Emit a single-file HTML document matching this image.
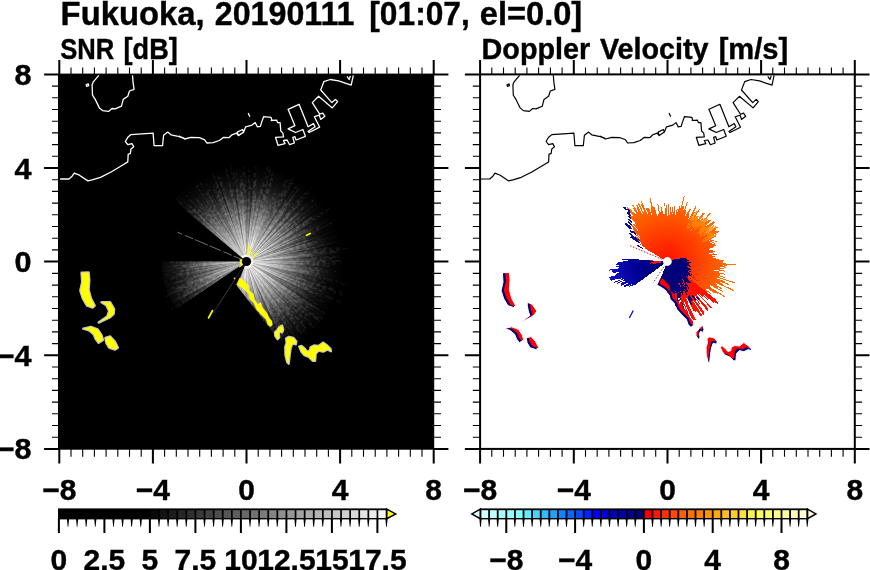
<!DOCTYPE html>
<html><head><meta charset="utf-8"><title>Fukuoka radar</title>
<style>html,body{margin:0;padding:0;background:#fff}svg{display:block}text{font-family:"Liberation Sans",sans-serif;font-weight:bold;fill:#000;stroke:#000;stroke-width:0.4px}</style>
</head><body>
<svg width="870" height="570" viewBox="0 0 870 570">
<defs>
<radialGradient id="gs" gradientUnits="userSpaceOnUse" cx="246.5" cy="261.5" r="100">
<stop offset="0" stop-color="#fff" stop-opacity="0.95"/>
<stop offset="0.08" stop-color="#fff" stop-opacity="0.95"/>
<stop offset="0.15" stop-color="#fff" stop-opacity="0.92"/>
<stop offset="0.25" stop-color="#fff" stop-opacity="0.8"/>
<stop offset="0.35" stop-color="#fff" stop-opacity="0.66"/>
<stop offset="0.45" stop-color="#fff" stop-opacity="0.5"/>
<stop offset="0.55" stop-color="#fff" stop-opacity="0.34"/>
<stop offset="0.65" stop-color="#fff" stop-opacity="0.2"/>
<stop offset="0.75" stop-color="#fff" stop-opacity="0.1"/>
<stop offset="0.85" stop-color="#fff" stop-opacity="0.04"/>
<stop offset="0.97" stop-color="#fff" stop-opacity="0"/>
</radialGradient>
<radialGradient id="gd" gradientUnits="userSpaceOnUse" cx="246.5" cy="261.5" r="108">
<stop offset="0" stop-color="#3a3a3a"/>
<stop offset="0.4" stop-color="#303030"/>
<stop offset="0.6" stop-color="#242424"/>
<stop offset="0.8" stop-color="#161616"/>
<stop offset="1" stop-color="#0a0a0a"/>
</radialGradient>
<filter id="sp" filterUnits="userSpaceOnUse" x="130" y="150" width="240" height="230"><feTurbulence type="fractalNoise" baseFrequency="0.3" numOctaves="2" seed="5" result="n"/><feColorMatrix in="n" type="matrix" values="0 0 0 0 0 0 0 0 0 0 0 0 0 0 0 0 0 0 -5 2.9" result="m"/><feComposite in="SourceGraphic" in2="m" operator="in"/></filter>
<radialGradient id="go" gradientUnits="userSpaceOnUse" cx="667.4" cy="261.5" r="80">
<stop offset="0" stop-color="#ff1000"/>
<stop offset="0.2" stop-color="#ff2800"/>
<stop offset="0.42" stop-color="#ff4400"/>
<stop offset="0.62" stop-color="#ff5c00"/>
<stop offset="0.8" stop-color="#ff7400"/>
<stop offset="1" stop-color="#ff8800"/>
</radialGradient>
<radialGradient id="gb" gradientUnits="userSpaceOnUse" cx="667.4" cy="261.5" r="60">
<stop offset="0" stop-color="#000070"/>
<stop offset="0.5" stop-color="#000090"/>
<stop offset="1" stop-color="#1010c8"/>
</radialGradient>
<clipPath id="cl"><rect x="59.3" y="74.4" width="374.4" height="374.5"/></clipPath>
<clipPath id="cr"><rect x="480.1" y="74.4" width="374.7" height="374.5"/></clipPath>
</defs>
<text x="60.6" y="24.8" font-size="33.6" textLength="144.0" lengthAdjust="spacingAndGlyphs">Fukuoka,</text>
<text x="214.8" y="24.8" font-size="33.6" textLength="139.7" lengthAdjust="spacingAndGlyphs">20190111</text>
<text x="369.3" y="24.8" font-size="33.6" textLength="100.5" lengthAdjust="spacingAndGlyphs">[01:07,</text>
<text x="479.8" y="24.8" font-size="33.6" textLength="102.4" lengthAdjust="spacingAndGlyphs">el=0.0]</text>
<text x="60.2" y="58.8" font-size="29.2" textLength="54.0" lengthAdjust="spacingAndGlyphs">SNR</text>
<text x="123.6" y="58.8" font-size="29.2" textLength="54.1" lengthAdjust="spacingAndGlyphs">[dB]</text>
<text x="481.6" y="58.8" font-size="29.2" textLength="108.5" lengthAdjust="spacingAndGlyphs">Doppler</text>
<text x="600" y="58.8" font-size="29.2" textLength="108.6" lengthAdjust="spacingAndGlyphs">Velocity</text>
<text x="718.7" y="58.8" font-size="29.2" textLength="69.5" lengthAdjust="spacingAndGlyphs">[m/s]</text>
<rect x="58" y="73.6" width="376.2" height="376.1" fill="#000"/>
<g clip-path="url(#cl)">
<g filter="url(#sp)">
<path d="M246.5,261.5 L237,286.3 237.4,286.4 237.3,286.7 237.8,286.9 237.7,287.2 238.1,287.3 238,287.6 238.5,287.8 238.4,288.1 238.8,288.2 238.7,288.5 239.2,288.7 239.1,289 239.6,289.2 239.5,289.5 240,289.6 239.9,290 240.4,290.1 240.3,290.6 240.8,290.7 240.7,291.1 241.3,291.2 241.2,291.7 241.7,291.7 241.6,292.2 242.2,292.3 242.1,292.8 242.6,292.9 242.6,293.5 243.1,293.5 243.1,294.1 243.6,294.1 243.6,294.8 244.2,294.8 244.1,295.4 244.7,295.5 244.7,296.2 245.3,296.2 245.3,296.9 245.9,296.9 245.9,297.7 246.5,297.7 246.5,298.5 247.1,298.5 247.2,299.4 247.8,299.4 247.9,300.3 248.5,300.2 248.6,301.2 249.3,301.2 249.3,302.2 250.1,302.2 250.2,303.3 250.9,303.2 251,304.4 251.8,304.3 251.9,305.6 252.7,305.5 252.9,306.8 253.7,306.7 253.9,308.2 254.7,308 255,309.6 255.8,309.5 256.1,311.1 257,311 257.4,312.8 258.3,312.6 258.8,314.6 259.7,314.4 260.2,316.5 261.2,316.3 261.8,318.6 262.8,318.4 263.5,320.9 264.6,320.6 265.4,323.5 266.5,323.1 267.5,326.2 268.7,325.9 269.9,329.3 271,328.9 272,331.6 273.2,331.1 275.4,336.7 276.7,336.2 278.7,341.1 280.1,340.5 274.7,328 275.9,327.5 281.5,340.2 282.9,339.6 282,337.7 283.3,337.1 288.9,348.5 290.4,347.7 287.7,342.4 289.1,341.7 280.6,325.6 281.7,325 295.5,349.9 297.1,349.1 279.3,318.3 280.3,317.7 286.7,328.3 287.8,327.6 295.2,339.5 296.6,338.6 283,317.7 284,317.1 291.7,328.6 292.9,327.8 282.3,312.6 283.2,312 298.4,332.9 299.6,332 302,335.2 303.3,334.2 298.4,328 299.6,327 307.4,336.7 308.7,335.6 293.9,317.9 294.8,317.1 305.1,329 306.3,327.9 303.5,324.8 304.6,323.8 304.2,323.4 305.3,322.4 301.8,318.7 302.7,317.7 313.9,328.9 315.1,327.7 318.2,330.7 319.4,329.5 305.2,316.2 306.2,315.2 312,320.4 313,319.3 294.2,303 295,302.2 319.4,322.6 320.4,321.4 318.6,319.9 319.6,318.6 331.5,327.9 332.6,326.4 326.7,321.9 327.7,320.5 308.7,306.7 309.5,305.6 313.1,308.1 313.9,307 324.2,313.9 325.1,312.5 301.4,297.2 302,296.2 318.3,306.4 319.1,305.1 308.1,298.5 308.7,297.4 306.8,296.3 307.4,295.2 305.1,294 305.7,293 333.1,307.5 333.9,306 309,293.3 309.5,292.2 314.2,294.5 314.7,293.3 320.4,296 321,294.7 340.2,303.2 340.9,301.6 309.1,288.1 309.5,287 324.5,293 325,291.6 329.1,293.2 329.6,291.8 343.4,296.8 344,295.1 341.3,294.1 341.9,292.5 343.7,293.1 344.3,291.4 319.8,283.9 320.2,282.6 325.9,284.3 326.3,282.9 323.9,282.2 324.3,280.9 346.5,286.4 347,284.7 350.1,285.4 350.5,283.6 316,276.3 316.3,275.1 317.4,275.3 317.6,274 320,274.5 320.2,273.2 320.3,273.2 320.4,271.9 331.3,273.4 331.5,271.9 336,272.5 336.2,270.9 322,269.4 322.2,268.1 310.9,267.1 311,266 329.1,267.3 329.2,265.8 327,265.7 327.1,264.3 335.7,264.6 335.7,263.1 352.6,263.4 352.6,261.5 341.1,261.5 341.1,259.8 333.5,260 333.4,258.5 337.9,258.3 337.8,256.7 340.4,256.6 340.3,254.9 313.2,256.8 313.1,255.7 349.9,252.5 349.7,250.7 344.5,251.2 344.3,249.5 348.4,249 348.2,247.2 344.9,247.7 344.6,246 327.1,248.7 326.9,247.3 327.2,247.3 326.9,245.9 314.2,248.3 314,247.2 336.7,242.3 336.3,240.8 312,246.4 311.7,245.2 311.9,245.2 311.6,244 317.6,242.5 317.2,241.2 315.3,241.8 314.9,240.6 322.4,238.3 322,237 310,240.9 309.6,239.8 307.5,240.5 307.1,239.4 308.2,239.1 307.8,238 305.9,238.7 305.5,237.7 315.3,233.7 314.8,232.5 302.2,237.8 301.8,236.9 333.1,223 332.4,221.4 322.9,225.9 322.2,224.6 305.4,232.8 304.9,231.8 308.6,229.9 308,228.8 311.4,227 310.8,225.9 311.4,225.5 310.8,224.4 302.3,229.3 301.8,228.3 326.9,213.2 326,211.8 330.9,208.7 330,207.3 312.2,218.9 311.4,217.7 312,217.3 311.2,216.2 298.1,225.4 297.5,224.5 298,224.1 297.3,223.2 305.1,217.4 304.3,216.4 301.8,218.3 301.1,217.3 318.7,203 317.7,201.8 297.1,219.1 296.3,218.2 292.1,221.8 291.4,221.1 319.2,196 318.1,194.8 305.6,206.4 304.6,205.4 293.6,216 292.8,215.2 304.1,203.9 303.1,202.9 288.6,217.9 287.8,217.2 301.6,202.4 300.6,201.4 312.7,187.9 311.4,186.8 308.4,190.3 307.1,189.2 302.8,194.4 301.6,193.4 290.6,207.1 289.6,206.3 292.2,202.9 291.2,202.2 286.4,208.6 285.4,207.9 299.8,188.2 298.5,187.2 293,195.2 291.8,194.4 297.3,186.1 296,185.2 286.2,200.4 285.1,199.8 282.8,203.4 281.8,202.8 294,182.4 292.6,181.6 296.1,175.6 294.6,174.7 292,179.4 290.6,178.6 289.7,180.3 288.3,179.5 288.5,179.1 287.1,178.3 285.7,181.2 284.3,180.5 275.5,199.3 274.4,198.8 279.2,188.1 277.9,187.5 275.4,193.5 274.2,193 269.2,205.2 268.2,204.8 268.2,204.9 267.2,204.5 270.7,195 269.5,194.6 269.3,195.3 268.1,195 273.5,178.3 272.1,177.9 275.2,167.7 273.5,167.2 267.9,187 266.6,186.6 271.7,167.5 270,167.1 270.5,165.1 268.9,164.7 268.6,166 266.9,165.6 261.9,188.9 260.7,188.6 259.6,194.3 258.4,194.1 258.4,193.9 257.2,193.7 257.1,194.9 255.9,194.7 255.9,194.4 254.8,194.2 256.8,177.4 255.4,177.3 256.5,166.2 254.9,166 254.6,168.4 253,168.3 252,182.8 250.6,182.8 251,175.8 249.5,175.7 249.7,169.8 248.1,169.8 247.6,198.6 246.5,198.6 246.5,175.3 245,175.4 244.8,165.3 243.1,165.4 243.3,170.5 241.7,170.6 241.8,171.9 240.2,172 241,182.9 239.6,183 240.7,195 239.5,195.1 237,170.7 235.4,170.8 237.6,189.1 236.4,189.3 233.7,170.6 232.1,170.8 231.1,164 229.4,164.3 233.7,188.7 232.4,189 232.4,188.7 231.1,189 226.6,167.9 225,168.3 227,176.8 225.5,177.2 230.8,198.4 229.7,198.7 230.1,200.4 229.1,200.7 228.8,199.7 227.7,200.1 219,171.6 217.5,172.1 218.7,175.8 217.2,176.3 225.6,200.9 224.6,201.3 215.4,176.1 213.9,176.6 211.7,171 210.2,171.6 214.9,183.4 213.6,184 218.3,195.1 217.2,195.6 214,188.5 212.7,189 219.7,204 218.7,204.5 220.7,208.6 219.8,209.1 202.6,175.4 201.1,176.2 207.1,187.4 205.8,188.1 208.2,192.3 207,193 198.9,179.1 197.5,179.9 207.7,196.9 206.5,197.6 197.4,182.9 196,183.8 197,185.3 195.7,186.1 209.3,206.3 208.3,206.9 207.4,205.6 206.4,206.3 205.4,205 204.5,205.7 205.7,207.4 204.8,208.1 196.4,197.3 195.3,198.2 203.4,208.3 202.5,209 198.4,204.2 197.4,205 204.9,213.6 204,214.3 183.5,191.5 182.3,192.6 197.2,208.7 196.3,209.5 193.5,206.6 192.5,207.5 189,204 188,205 178.9,196.2 177.8,197.4 191.7,210.4 190.8,211.4 176.3,198.3 175.2,199.5 187.6,210.3 186.7,211.3Z" fill="url(#gd)"/>
<path d="M246.5,261.5 L169.8,261.5 169.8,262.8 170.1,262.8 170.1,264.2 186.1,263.6 186.2,264.7 172.8,265.4 172.9,266.6 181,266.1 181.1,267.2 186.8,266.7 186.9,267.8 161.8,270.4 162,271.9 181.7,269.5 181.8,270.6 172.4,271.9 172.6,273.2 164.7,274.5 164.9,275.9 170.2,275 170.5,276.3 177.6,274.9 177.9,276.1 171.9,277.4 172.2,278.7 171,278.9 171.4,280.2 164.3,282 164.7,283.4 185.5,277.9 185.7,278.9 171.9,282.9 172.3,284.2 181.7,281.3 182.1,282.4 181.2,282.7 181.6,283.8 166.8,288.9 167.3,290.3 175.2,287.5 175.6,288.7 174,289.3 174.5,290.6 168.7,292.9 169.3,294.3 164.8,296.2 165.4,297.6 179,291.6 179.5,292.7 174.7,295 175.3,296.2 178.3,294.8 178.9,295.9 178.7,296 179.3,297.2 174.3,299.9 175,301.2 181.6,297.5 182.3,298.6 180,299.9 180.7,301 182.2,300.1 182.9,301.2 170.5,309 171.3,310.3 177.7,306.2 178.5,307.3Z" fill="url(#gd)"/>
</g>
<path d="M246.5,261.5 L237,286.3 237.4,286.4 237.3,286.7 237.8,286.9 237.7,287.2 238.1,287.3 238,287.6 238.5,287.8 238.4,288.1 238.8,288.2 238.7,288.5 239.2,288.7 239.1,289 239.6,289.2 239.5,289.5 240,289.6 239.9,290 240.4,290.1 240.3,290.6 240.8,290.7 240.7,291.1 241.3,291.2 241.2,291.7 241.7,291.7 241.6,292.2 242.2,292.3 242.1,292.8 242.6,292.9 242.6,293.5 243.1,293.5 243.1,294.1 243.6,294.1 243.6,294.8 244.2,294.8 244.1,295.4 244.7,295.5 244.7,296.2 245.3,296.2 245.3,296.9 245.9,296.9 245.9,297.7 246.5,297.7 246.5,298.5 247.1,298.5 247.2,299.4 247.8,299.4 247.9,300.3 248.5,300.2 248.6,301.2 249.3,301.2 249.3,302.2 250.1,302.2 250.2,303.3 250.9,303.2 251,304.4 251.8,304.3 251.9,305.6 252.7,305.5 252.9,306.8 253.7,306.7 253.9,308.2 254.7,308 255,309.6 255.8,309.5 256.1,311.1 257,311 257.4,312.8 258.3,312.6 258.8,314.6 259.7,314.4 260.2,316.5 261.2,316.3 261.8,318.6 262.8,318.4 263.5,320.9 264.6,320.6 265.4,323.5 266.5,323.1 267.5,326.2 268.7,325.9 269.9,329.3 271,328.9 272.5,332.8 273.7,332.3 275.4,336.7 276.7,336.2 278.7,341.1 280.1,340.5 282.4,346.2 283.9,345.5 286.4,351 287.9,350.3 287.9,350.3 289.5,349.6 289.5,349.6 291,348.8 291,348.8 292.5,348 292.5,348 294,347.2 294,347.2 295.5,346.4 295.5,346.4 297,345.5 297,345.5 298.4,344.6 298.4,344.6 299.9,343.7 299.9,343.7 301.3,342.7 301.3,342.7 302.7,341.8 302.7,341.8 304.1,340.8 304.1,340.8 305.5,339.8 305.5,339.8 306.8,338.7 306.8,338.7 308.2,337.7 308.2,337.7 309.5,336.6 309.5,336.6 310.8,335.5 310.8,335.5 312.1,334.3 312.1,334.3 313.3,333.2 313.3,333.2 314.6,332 314.6,332 315.8,330.8 315.8,330.8 317,329.6 317,329.6 318.2,328.3 318.2,328.3 319.3,327.1 319.3,327.1 320.5,325.8 320.5,325.8 321.6,324.5 321.6,324.5 322.7,323.2 322.7,323.2 323.7,321.8 323.7,321.8 324.8,320.5 324.8,320.5 325.8,319.1 325.8,319.1 326.8,317.7 326.8,317.7 327.7,316.3 327.7,316.3 328.7,314.9 328.7,314.9 329.6,313.4 329.6,313.4 330.5,312 330.5,312 331.4,310.5 331.4,310.5 332.2,309 332.2,309 333,307.5 333,307.5 333.8,306 333.8,306 334.6,304.5 334.6,304.5 335.3,302.9 335.3,302.9 336,301.4 336,301.4 336.7,299.8 336.7,299.8 337.4,298.2 337.4,298.2 338,296.6 338,296.6 338.6,295 338.6,295 339.2,293.4 339.2,293.4 339.7,291.8 339.7,291.8 340.2,290.2 340.2,290.2 340.7,288.5 340.7,288.5 341.2,286.9 341.2,286.9 341.6,285.2 341.6,285.2 342,283.5 342,283.5 342.4,281.9 342.4,281.9 342.7,280.2 342.7,280.2 343,278.5 343,278.5 343.3,276.8 343.3,276.8 343.5,275.1 343.5,275.1 343.8,273.4 343.8,273.4 344,271.7 344,271.7 344.1,270 344.1,270 344.3,268.3 344.3,268.3 344.4,266.6 344.4,266.6 344.4,264.9 344.4,264.9 344.5,263.2 344.5,263.2 344.5,261.5 344.5,261.5 344.5,259.8 344.5,259.8 344.4,258.1 344.4,258.1 344.4,256.4 344.4,256.4 344.3,254.7 344.3,254.7 344.1,253 344.1,253 344,251.3 344,251.3 343.8,249.6 343.8,249.6 343.5,247.9 343.5,247.9 343.3,246.2 343.3,246.2 343,244.5 343,244.5 342.7,242.8 342.7,242.8 342.4,241.1 342.4,241.1 342,239.5 342,239.5 341.6,237.8 341.6,237.8 341.2,236.1 341.2,236.1 340.7,234.5 340.7,234.5 340.2,232.8 340.2,232.8 339.7,231.2 339.7,231.2 339.2,229.6 339.2,229.6 338.6,228 338.6,228 338,226.4 338,226.4 337.4,224.8 337.4,224.8 336.7,223.2 336.7,223.2 336,221.6 336,221.6 335.3,220.1 335.3,220.1 334.6,218.5 334.6,218.5 333.8,217 333.8,217 333,215.5 333,215.5 332.2,214 332.2,214 331.4,212.5 331.4,212.5 330.5,211 330.5,211 329.6,209.6 329.6,209.6 328.7,208.1 328.7,208.1 327.7,206.7 327.7,206.7 326.8,205.3 326.8,205.3 325.8,203.9 325.8,203.9 324.8,202.5 324.8,202.5 323.7,201.2 323.7,201.2 322.7,199.8 322.7,199.8 321.6,198.5 321.6,198.5 320.5,197.2 320.5,197.2 319.3,195.9 319.3,195.9 318.2,194.7 318.2,194.7 317,193.4 317,193.4 315.8,192.2 315.8,192.2 314.6,191 314.6,191 313.3,189.8 313.3,189.8 312.1,188.7 312.1,188.7 310.8,187.5 310.8,187.5 309.5,186.4 309.5,186.4 308.2,185.3 308.2,185.3 306.8,184.3 306.8,184.3 305.5,183.2 305.5,183.2 304.1,182.2 304.1,182.2 302.7,181.2 302.7,181.2 301.3,180.3 301.3,180.3 299.9,179.3 299.9,179.3 298.4,178.4 298.4,178.4 297,177.5 297,177.5 295.5,176.6 295.5,176.6 294,175.8 294,175.8 292.5,175 292.5,175 291,174.2 291,174.2 289.5,173.4 289.5,173.4 287.9,172.7 287.9,172.7 286.4,172 286.4,172 284.8,171.3 284.8,171.3 283.2,170.6 283.2,170.6 281.6,170 281.6,170 280,169.4 280,169.4 278.4,168.8 278.4,168.8 276.8,168.3 276.8,168.3 275.2,167.8 275.2,167.8 273.5,167.3 273.5,167.3 271.9,166.8 271.9,166.8 270.2,166.4 270.2,166.4 268.5,166 268.5,166 266.9,165.6 266.9,165.6 265.2,165.3 265.2,165.3 263.5,165 263.5,165 261.8,164.7 261.8,164.7 260.1,164.5 260.1,164.5 258.4,164.2 258.4,164.2 256.7,164 256.7,164 255,163.9 255,163.9 253.3,163.7 253.3,163.7 251.6,163.6 251.6,163.6 249.9,163.6 249.9,163.6 248.2,163.5 248.2,163.5 246.5,163.5 246.5,163.5 244.8,163.5 244.8,163.5 243.1,163.6 243.1,163.6 241.4,163.6 241.4,163.6 239.7,163.7 239.7,163.7 238,163.9 238,163.9 236.3,164 236.3,164 234.6,164.2 234.6,164.2 232.9,164.5 232.9,164.5 231.2,164.7 231.2,164.7 229.5,165 229.5,165 227.8,165.3 227.8,165.3 226.1,165.6 226.1,165.6 224.5,166 224.5,166 222.8,166.4 222.8,166.4 221.1,166.8 221.1,166.8 219.5,167.3 219.5,167.3 217.8,167.8 217.8,167.8 216.2,168.3 216.2,168.3 214.6,168.8 214.6,168.8 213,169.4 213,169.4 211.4,170 211.4,170 209.8,170.6 209.8,170.6 208.2,171.3 208.2,171.3 206.6,172 206.6,172 205.1,172.7 205.1,172.7 203.5,173.4 203.5,173.4 202,174.2 202,174.2 200.5,175 200.5,175 199,175.8 199,175.8 197.5,176.6 197.5,176.6 196,177.5 196,177.5 194.6,178.4 194.6,178.4 193.1,179.3 193.1,179.3 191.7,180.3 191.7,180.3 190.3,181.2 190.3,181.2 188.9,182.2 188.9,182.2 187.5,183.2 187.5,183.2 186.2,184.3 186.2,184.3 184.8,185.3 184.8,185.3 183.5,186.4 183.5,186.4 182.2,187.5 182.2,187.5 180.9,188.7 180.9,188.7 179.7,189.8 179.7,189.8 178.4,191 178.4,191 177.2,192.2 177.2,192.2 176,193.4 176,193.4 174.8,194.7 174.8,194.7 173.7,195.9 173.7,195.9 172.5,197.2 172.5,197.2 171.4,198.5Z" fill="url(#gs)"/>
<path d="M246.5,261.5 L161.5,261.5 161.5,263 161.5,263 161.6,264.5 161.6,264.5 161.6,265.9 161.6,265.9 161.7,267.4 161.7,267.4 161.8,268.9 161.8,268.9 162,270.4 162,270.4 162.1,271.9 162.1,271.9 162.3,273.3 162.3,273.3 162.5,274.8 162.5,274.8 162.8,276.3 162.8,276.3 163.1,277.7 163.1,277.7 163.4,279.2 163.4,279.2 163.7,280.6 163.7,280.6 164,282.1 164,282.1 164.4,283.5 164.4,283.5 164.8,284.9 164.8,284.9 165.2,286.4 165.2,286.4 165.7,287.8 165.7,287.8 166.1,289.2 166.1,289.2 166.6,290.6 166.6,290.6 167.1,292 167.1,292 167.7,293.3 167.7,293.3 168.3,294.7 168.3,294.7 168.8,296.1 168.8,296.1 169.5,297.4 169.5,297.4 170.1,298.8 170.1,298.8 170.8,300.1 170.8,300.1 171.4,301.4 171.4,301.4 172.2,302.7 172.2,302.7 172.9,304 172.9,304 173.6,305.3 173.6,305.3 174.4,306.5 174.4,306.5 175.2,307.8 175.2,307.8 176,309Z" fill="url(#gs)" opacity="0.85"/>
<path d="M246.5,261.5 L212.2,313.1 213.5,314Z" fill="url(#gs)" opacity="0.35"/>
<path d="M244,268 L206.4,366.1 L208.9,367 L244.2,268.1 Z M246.3,268.5 L242.8,373.4 L246.5,373.5 L246.5,268.5 Z M247.4,268.4 L260.7,372.6 L263.4,372.2 L247.6,268.4 Z M247.9,268.4 L268.4,371.3 L271.1,370.8 L248,268.3 Z M248,268.3 L271.1,370.8 L273.8,370.1 L248.2,268.3 Z M249,268 L287.2,365.8 L289,365.1 L249.2,268 Z M250,267.6 L302.7,358.4 L303.8,357.7 L250.1,267.5 Z M250.5,267.2 L310.9,353.1 L313.1,351.5 L250.7,267.1 Z M251.3,266.6 L323,343.3 L325,341.4 L251.4,266.5 Z M251.5,266.4 L326.4,340 L328.9,337.3 L251.7,266.2 Z M252,265.8 L334.6,330.6 L335.8,329.1 L252.1,265.7 Z M252.5,265.1 L342.1,319.9 L344,316.7 L252.6,264.9 Z M252.6,264.9 L344,316.7 L345.8,313.4 L252.7,264.7 Z M253.2,263.5 L353.8,293.5 L354.8,289.9 L253.3,263.3 Z M253.3,263.3 L354.8,289.9 L355.5,287.3 L253.3,263.1 Z M253.5,262.1 L358.1,270.7 L358.3,267.9 L253.5,261.9 Z M253.5,261.1 L358.4,255.8 L358.2,253.1 L253.5,261 Z M253,259 L350.8,220.8 L350.1,219 L253,258.8 Z M250.9,256 L316.7,174.2 L314.5,172.5 L250.8,255.9 Z M249.5,255.2 L295.1,160.6 L293.8,160 L249.5,255.2 Z M248.2,254.7 L273.2,152.7 L271.3,152.3 L248.1,254.7 Z M243.4,255.2 L197.1,161 L193.7,162.7 L243.2,255.3 Z M242.6,255.7 L183.7,168.8 L182.6,169.5 L242.5,255.8 Z M241.7,256.4 L170.3,179.5 L167.6,182 L241.6,256.5 Z M241.2,256.9 L162.4,187.6 L161.1,189.1 L241.2,257 Z M241.2,257 L161.1,189.1 L160.7,189.5 L241.1,257 Z M239.5,262.2 L135.1,273.2 L135.4,275.9 L239.6,262.4 Z M239.6,262.6 L135.9,279.2 L136.4,281.9 L239.6,262.8 Z M239.9,263.7 L140.2,296.9 L141.1,299.4 L239.9,263.9 Z M240.5,265.2 L151.2,320.4 L153.2,323.5 L240.7,265.4 Z" fill="#000" opacity="0.3"/>
<path d="M244.2,268.1 L208.9,367 L210.8,367.7 L244.3,268.1 Z M244.3,268.1 L210.8,367.7 L212.6,368.3 L244.4,268.2 Z M244.4,268.2 L212.6,368.3 L213.9,368.7 L244.5,268.2 Z M244.8,268.3 L218.8,370 L220.7,370.5 L244.9,268.3 Z M245.8,268.5 L235.8,373 L237.1,373.1 L245.9,268.5 Z M247.6,268.4 L263.4,372.2 L267.1,371.6 L247.8,268.4 Z M247.8,268.4 L267.1,371.6 L268.4,371.3 L247.9,268.4 Z M248.8,268.1 L282.8,367.5 L284.6,366.8 L248.9,268.1 Z M248.9,268.1 L284.6,366.8 L287.2,365.8 L249,268 Z M249.7,267.7 L297.3,361.3 L299.1,360.4 L249.8,267.7 Z M252.9,264.3 L349,306.7 L349.7,304.9 L253,264.2 Z M253.1,263.9 L351.9,299.3 L352.8,296.7 L253.1,263.7 Z M253.5,261.4 L358.5,259.9 L358.4,257.2 L253.5,261.2 Z M253.5,261.2 L358.4,257.2 L358.4,255.8 L253.5,261.1 Z M253.4,260.6 L357.6,247.1 L357.3,245.1 L253.4,260.5 Z M253.4,260.5 L357.3,245.1 L357.1,243.8 L253.4,260.4 Z M252.7,258.3 L346.2,210.5 L344.5,207.2 L252.6,258.1 Z M252.5,258 L343.1,204.8 L342.1,203.1 L252.5,257.9 Z M251.8,256.9 L331.4,188.5 L328.9,185.7 L251.7,256.8 Z M249.9,255.4 L300.8,163.5 L298.4,162.2 L249.7,255.3 Z M249.7,255.3 L298.4,162.2 L295.1,160.6 L249.5,255.2 Z M249.3,255.1 L292.1,159.2 L290.8,158.6 L249.3,255.1 Z M247.7,254.6 L265.9,151.2 L262.3,150.6 L247.5,254.6 Z M246.9,254.5 L252.9,149.7 L249.2,149.5 L246.7,254.5 Z M246.5,254.5 L246.5,149.5 L244.5,149.5 L246.4,254.5 Z M246.4,254.5 L244.5,149.5 L241.8,149.6 L246.2,254.5 Z M244.9,254.7 L221.3,152.4 L217.7,153.3 L244.7,254.7 Z M244,255 L205.8,157.2 L203.3,158.2 L243.8,255 Z M243.6,255.1 L200.8,159.3 L198.3,160.4 L243.5,255.2 Z M243,255.4 L190.8,164.3 L187.6,166.2 L242.8,255.5 Z M242.7,255.6 L186,167.3 L183.7,168.8 L242.6,255.7 Z M242.4,255.8 L181,170.7 L178,172.9 L242.2,256 Z M242,256.2 L173.8,176.3 L171.7,178.1 L241.8,256.3 Z M239.5,261.5 L134.5,261.5 L134.5,263.5 L239.5,261.6 Z M239.5,261.6 L134.5,263.5 L134.6,266.2 L239.5,261.8 Z M239.6,262.9 L136.7,283.8 L137.5,287.5 L239.7,263.1 Z M239.7,263.3 L138.5,291.1 L139,292.9 L239.8,263.5 Z M239.8,263.6 L139.8,295.6 L140.2,296.9 L239.9,263.7 Z M240.1,264.3 L143.9,306.3 L145.4,309.7 L240.2,264.5 Z M240.2,264.5 L145.4,309.7 L147.1,313 L240.3,264.7 Z" fill="#000" opacity="0.2"/>
<path d="M244.5,268.2 L213.9,368.7 L217.5,369.7 L244.7,268.3 Z M246.5,268.5 L246.5,373.5 L250.2,373.4 L246.7,268.5 Z M247,268.5 L253.9,373.3 L256.7,373 L247.1,268.5 Z M248.4,268.2 L277,369.3 L278.3,368.9 L248.5,268.2 Z M248.7,268.2 L280.9,368.1 L282.8,367.5 L248.8,268.1 Z M249.8,267.7 L299.1,360.4 L300.3,359.7 L249.9,267.6 Z M249.9,267.6 L301.5,359.1 L302.7,358.4 L250,267.6 Z M250.7,267.1 L313.1,351.5 L316.1,349.3 L250.8,267 Z M251,266.8 L319.1,346.8 L320.6,345.5 L251.1,266.8 Z M251.2,266.7 L321.6,344.6 L323,343.3 L251.3,266.6 Z M251.4,266.5 L325,341.4 L326.4,340 L251.5,266.4 Z M251.7,266.2 L328.9,337.3 L330.3,335.9 L251.7,266.1 Z M253.4,262.6 L357.1,279 L357.4,277.1 L253.4,262.5 Z M253.5,262.2 L357.9,273.4 L358.1,270.7 L253.5,262.1 Z M253.5,261.7 L358.4,265.2 L358.5,263.8 L253.5,261.6 Z M253.5,261.6 L358.5,263.8 L358.5,261.9 L253.5,261.5 Z M253.4,260.4 L357.1,243.8 L356.9,242.4 L253.4,260.3 Z M253.3,259.9 L355.5,235.9 L354.6,232.3 L253.3,259.7 Z M252.2,257.4 L337,195.5 L334.8,192.5 L252,257.2 Z M252,257.2 L334.8,192.5 L333.9,191.5 L252,257.1 Z M251.1,256.2 L320.3,177.2 L318.8,176 L251,256.2 Z M250.5,255.7 L309.9,169.2 L306.8,167.1 L250.3,255.6 Z M250.1,255.5 L304,165.4 L300.8,163.5 L249.9,255.4 Z M249.5,255.2 L293.8,160 L292.1,159.2 L249.3,255.1 Z M249.3,255.1 L290.8,158.6 L289.5,158.1 L249.2,255 Z M249,255 L286.1,156.7 L282.6,155.5 L248.8,254.9 Z M248.3,254.7 L275.9,153.4 L273.2,152.7 L248.2,254.7 Z M245.9,254.5 L236.3,150 L233.6,150.2 L245.7,254.5 Z M245.3,254.6 L226.7,151.3 L224,151.8 L245.1,254.6 Z M244.7,254.7 L217.7,153.3 L216.4,153.6 L244.6,254.8 Z M244.6,254.8 L216.4,153.6 L212.8,154.7 L244.4,254.8 Z M244.4,254.8 L212.8,154.7 L211.5,155.1 L244.3,254.9 Z M242.2,256 L178,172.9 L175.9,174.6 L242.1,256.1 Z M242.1,256.1 L175.9,174.6 L173.8,176.3 L242,256.2 Z M241.8,256.3 L171.7,178.1 L170.3,179.5 L241.7,256.4 Z M239.6,262.4 L135.4,275.9 L135.6,277.3 L239.6,262.5 Z M239.6,262.5 L135.6,277.3 L135.9,279.2 L239.6,262.6 Z M239.8,263.5 L139,292.9 L139.8,295.6 L239.8,263.6 Z" fill="#000" opacity="0.1"/>
<path d="M244.7,268.3 L217.5,369.7 L218.8,370 L244.8,268.3 Z M245.1,268.4 L224.7,371.4 L226.7,371.7 L245.3,268.4 Z M247.1,268.5 L256.7,373 L258,372.9 L247.2,268.5 Z M249.2,268 L289,365.1 L292.4,363.7 L249.4,267.9 Z M249.9,267.6 L300.3,359.7 L301.5,359.1 L249.9,267.6 Z M252.4,265.3 L340.1,323 L342.1,319.9 L252.5,265.1 Z M252.7,264.7 L345.8,313.4 L347,310.9 L252.8,264.6 Z M253.1,263.9 L351.5,300.5 L351.9,299.3 L253.1,263.9 Z M253.2,263.6 L353.4,294.8 L353.8,293.5 L253.2,263.5 Z M253.3,263.1 L355.5,287.3 L355.9,285.4 L253.3,263 Z M253.4,260.3 L356.9,242.4 L356.4,239.7 L253.4,260.1 Z M253.3,260 L356,237.8 L355.5,235.9 L253.3,259.9 Z M253.2,259.5 L353.6,228.8 L352.8,226.1 L253.1,259.3 Z M253.1,259.2 L352.1,224.3 L350.8,220.8 L253,259 Z M253,258.8 L350.1,219 L349.6,217.7 L252.9,258.8 Z M252.9,258.6 L348.3,214.7 L347.4,212.9 L252.8,258.5 Z M252.6,258.1 L344.5,207.2 L343.8,206 L252.6,258 Z M252.6,258 L343.8,206 L343.1,204.8 L252.5,258 Z M252.3,257.5 L338.6,197.7 L337.8,196.6 L252.2,257.4 Z M252.2,257.4 L337.8,196.6 L337,195.5 L252.2,257.4 Z M252,257.1 L333.9,191.5 L332.7,190 L251.9,257 Z M251.5,256.6 L326.4,183 L323.7,180.4 L251.3,256.4 Z M251,256.2 L318.8,176 L316.7,174.2 L250.9,256 Z M250.3,255.6 L306.8,167.1 L305.7,166.4 L250.2,255.6 Z M250.2,255.6 L305.7,166.4 L304,165.4 L250.1,255.5 Z M247.1,254.5 L256.7,150 L252.9,149.7 L246.9,254.5 Z M246.7,254.5 L249.2,149.5 L246.5,149.5 L246.5,254.5 Z M245.5,254.6 L229.9,150.7 L228,151 L245.3,254.6 Z M245.3,254.6 L228,151 L226.7,151.3 L245.3,254.6 Z M244.2,254.9 L210.2,155.5 L207.6,156.5 L244.1,254.9 Z M243.5,255.2 L198.3,160.4 L197.1,161 L243.4,255.2 Z M243.2,255.3 L193.7,162.7 L192,163.6 L243.1,255.4 Z M242.8,255.5 L187.6,166.2 L186,167.3 L242.7,255.6 Z M241.4,256.7 L165,184.7 L163.7,186.1 L241.3,256.8 Z M239.7,263.1 L137.5,287.5 L138.5,291.1 L239.7,263.3 Z M240.4,265 L149.3,317.2 L151.2,320.4 L240.5,265.2 Z" fill="#000" opacity="0.42"/>
<line x1="246.5" y1="261.5" x2="177.5" y2="232.2" stroke="#a0a0a0" stroke-width="0.7" stroke-dasharray="14,2,9,3,12,2"/>
<path d="M60.1,179 68.9,179 72.1,176.2 74.2,173.1 79.4,175.2 87.9,180.9 92.1,179.8 100.5,177.3 111,172 121.5,165.7 127.8,161.9 128.2,154.1 130.3,153.7 131,148.9 133.7,146.8 132,143.6 127.8,144.7 125.3,141.5 127.8,137.3 131,134.6 153.1,133.1 154.1,145.7 162.5,145.7 163.6,135.2 167.8,132.1 170.9,134.8 178.3,136.3 184.2,138.4 179.5,136.3 184.7,139 191,137.3 199.4,137.7 204.7,139.8 206.8,143 213.1,142.6 219.4,140.5 223.6,137.3 228.9,137.7 232,134.8 236.3,133.1 238.4,135.6 243.6,132.1 242.6,129.5 237.3,132.1 238.4,135.6 243.6,132.1 245.7,126.8 252,125.1 255.2,122.6 257.3,126.8 260.4,126.4 261.5,122.6 263.6,116.7 271,117.3 272,120.5 271.3,120.5 276.6,120.1 277.6,122.6 280.1,122.6 280.8,131 282.9,133.1 283.5,136.9 275.5,137.3 278,145.3 285,143.6 283.5,140.5 287.1,140 289.6,144.7 294.4,143 292.8,137.3 294.9,136.7 296.1,140 305.4,136.3 302.9,129.5 295.5,132.5 288.1,128.9 294.9,125.7 288.1,109.3 299.1,104.3 308.1,126.8 313.4,123.6 315.1,126.8 308.1,131.4 309.2,132.5 319.7,127.2 314.4,116.7 319.3,115.2 320.7,119.4 324.9,116.3 322.8,113.1 319.7,114.2 312.3,102.6 318.6,96.3 332.3,107.9 337.6,101.6 335.5,99.4 331.9,102.6 320.7,90 323.9,81.6 330.2,79.5 338.6,80.9 351.2,85.1 353.3,75.3M98.8,75.3 93.1,82.2 92.1,84.7 92.5,95.2 95.2,99.4 99.4,107.9 102.6,110.6 108.5,111.4 112,108.5 115.2,108.9 121.5,106.2 123.2,99.4 127.8,96.3 129.5,91 134.1,89.4 133.1,82.6 132.5,75.3M86.2,84.7 88.3,83.9 88.7,85.6 86.6,86.4ZM248.2,113.1 249.9,116.7M347,76.3 349.1,79.5 350.4,75.9" fill="none" stroke="#fff" stroke-width="1.3" stroke-linejoin="round"/>
<path d="M81.6,272.8 88.6,272.4 89.3,280.1 88.6,289.7 90.9,298.4 94.7,305.6 92.8,307.5 87,305.6 82.8,298.4 80.3,290.7 82.2,282Z" fill="#ff0" stroke="#c4c4c4" stroke-width="2.4" stroke-linejoin="round" paint-order="stroke"/>
<path d="M101.5,302.3 110.2,302.3 114.1,309.1 113.7,313.9 110.2,317.2 98.6,322.6 107.3,316.4 109.2,311 106.3,305.2Z" fill="#ff0" stroke="#c4c4c4" stroke-width="2.4" stroke-linejoin="round" paint-order="stroke"/>
<path d="M83.2,328.7 90.9,326.8 97.6,329.3 101.5,335.1 102.9,339.9 98.6,342.8 95.7,339 93.8,334.2 89,330.3Z" fill="#ff0" stroke="#c4c4c4" stroke-width="2.4" stroke-linejoin="round" paint-order="stroke"/>
<path d="M105.4,338 110.2,336.5 115,341.9 117.9,347.7 115,349.6 109.2,347.7 106.3,342.8Z" fill="#ff0" stroke="#c4c4c4" stroke-width="2.4" stroke-linejoin="round" paint-order="stroke"/>
<path d="M236.6,284.7 239.7,277.9 242.9,279.5 248.7,285.8 249.2,290.5 253.4,293.7 254.5,298.9 257.6,304.2 260.8,302.6 262.4,307.4 266.6,312.6 269,317.5 271.8,321 272.4,324.9 270.1,326.7 267.8,324.4 266.1,319.5 261.3,314.7 256.6,309.5 253.9,303.2 249.7,298.9 248.7,293.7 245,290 240.3,286.8Z" fill="#ff0" stroke="#c4c4c4" stroke-width="0.6" stroke-linejoin="round" paint-order="stroke"/>
<path d="M279.2,327.2 282.1,325.5 283.2,329.5 282.1,332.4 279.8,331.2 278.7,333.5 279.2,337.5 277.5,339.2 275.3,335.8 275,332.4 277,330.6Z" fill="#ff0" stroke="#c4c4c4" stroke-width="2.4" stroke-linejoin="round" paint-order="stroke"/>
<path d="M286.1,338.6 288.9,336.9 293.5,338 296.3,341.5 295.8,344.3 292.4,343.2 290.6,348.3 289.5,356.3 288.7,363.7 287.2,362 285.5,355.1 285.3,347.2 286.7,342.6Z" fill="#ff0" stroke="#c4c4c4" stroke-width="2.4" stroke-linejoin="round" paint-order="stroke"/>
<path d="M299.2,346.6 301.5,346 304.3,348.3 307.2,351.7 310,350.6 310.6,347.2 314,345.5 318.6,346 323.1,342.6 327.1,345.5 330.5,348.9 330.9,351.2 327.7,349.4 323.1,351.7 318.6,350.6 315.7,353.4 315.1,360.8 312.9,360.8 308.9,356.9 304.3,355.1 301.5,351.7Z" fill="#ff0" stroke="#c4c4c4" stroke-width="2.4" stroke-linejoin="round" paint-order="stroke"/>
<line x1="306.5" y1="235.2" x2="310.2" y2="233.6" stroke="#ff0" stroke-width="1.6" stroke-linecap="round"/>
<line x1="208.5" y1="318" x2="212.5" y2="310.5" stroke="#ff0" stroke-width="1.6" stroke-linecap="round"/>
<circle cx="246.5" cy="261.5" r="4.6" fill="#000"/>
<path d="M248.5,243.9 L248.1,255.4 M250.6,248.6 v1.2 M250.3,251.6 l2,2.4 M252.3,251.4 v1.2 M257.2,253 L252.7,257.5 M253.4,259.9 v1 M244.9,250.4 v1" stroke="#ff0" stroke-width="1.3" fill="none"/>
<path d="M239.7,259.3 h2.4 v2.5 h-2.4 Z M240.2,262.7 h1.2 v1.2 h-1.2 Z" fill="#ff0"/>
<path d="M242.8,264.2 L239.3,267 M235.1,277.5 L234,279.3" stroke="#ff0" stroke-width="1.2" fill="none"/>
</g>
<g clip-path="url(#cr)">
<g shape-rendering="crispEdges">
<path d="M667.4,261.5 L699.9,288.8 700.4,288.2 709.8,295.8 710.3,295.1 706.5,292.1 707.1,291.4 711.4,294.6 711.9,293.9 705.9,289.4 706.3,288.8 706.4,288.8 706.9,288.2 714.3,293.1 714.8,292.3 717.6,294.1 718.1,293.2 724.6,297.3 725.3,296.3 710,287.1 710.5,286.4 709.7,285.9 710.2,285.2 722.6,292.1 723.1,291.1 717.8,288.3 718.3,287.4 721.9,289.3 722.4,288.3 716.5,285.5 716.9,284.6 715.9,284.1 716.2,283.2 733.8,291.1 734.3,289.9 722.5,284.9 722.9,283.9 719.5,282.6 719.9,281.6 728.7,285 729.1,283.9 724.3,282.2 724.7,281.2 716.7,278.5 717,277.6 734.4,283.3 734.7,282.1 718.6,277.2 718.9,276.3 725,278 725.2,277 718.5,275.2 718.7,274.3 720.2,274.7 720.5,273.7 724.5,274.7 724.8,273.7 719.4,272.5 719.5,271.6 713.9,270.5 714.1,269.7 725.3,271.7 725.5,270.7 719.9,269.8 720.1,268.9 723.6,269.4 723.7,268.4 719.8,267.9 719.9,267 726.1,267.7 726.2,266.6 722.7,266.3 722.8,265.4 726.9,265.7 727,264.6 736.4,265.1 736.5,263.9 723.2,263.4 723.2,262.5 722.9,262.5 722.9,261.5 723.1,261.5 723.1,260.5 723.7,260.5 723.7,259.5 719.1,259.7 719.1,258.8 716.3,258.9 716.3,258.1 712.2,258.4 712.2,257.6 712.8,257.5 712.7,256.7 716.1,256.4 716,255.5 712.4,256 712.3,255.2 718.5,254.3 718.3,253.4 713.6,254.2 713.5,253.4 709.1,254.1 709,253.4 713.3,252.6 713.2,251.8 715.1,251.4 714.9,250.5 712.8,251 712.6,250.2 711.9,250.4 711.7,249.6 709.1,250.3 708.9,249.6 710.3,249.2 710.1,248.4 713.4,247.5 713.1,246.7 716.8,245.4 716.5,244.6 715.4,245 715.1,244.1 715.3,244.1 715,243.2 712.3,244.3 712,243.5 717.6,241.2 717.2,240.4 710.1,243.4 709.8,242.6 715.1,240.2 714.8,239.4 711.8,240.8 711.4,240 708.2,241.6 707.8,240.9 716,236.7 715.6,235.9 711.1,238.2 710.7,237.5 714.7,235.3 714.2,234.5 718.8,231.8 718.3,230.9 717.2,231.6 716.7,230.7 715.7,231.3 715.2,230.5 716.2,229.8 715.7,229 717.6,227.6 717,226.7 708.1,233 707.6,232.3 706.4,233.2 705.9,232.5 709.6,229.7 709,229 707.6,230.1 707,229.4 715.5,222.5 714.8,221.7 714.3,222.2 713.6,221.4 710.8,223.8 710.1,223.1 706.4,226.4 705.8,225.7 711.5,220.4 710.8,219.6 709.9,220.5 709.2,219.7 707.9,221 707.2,220.3 703.3,224.4 702.6,223.7 703.9,222.4 703.2,221.8 711,213.1 710.2,212.3 701.8,221.9 701.1,221.3 703.8,218.1 703,217.5 700.7,220.3 700,219.8 704.8,213.6 704,212.9 703.9,213.1 703,212.5 698.5,218.7 697.8,218.2 697.4,218.7 696.6,218.1 698,216.1 697.2,215.5 695.5,218.3 694.7,217.8 699.8,209.7 698.9,209.1 692.4,219.8 691.7,219.4 692.9,217.3 692.1,216.9 694.9,211.9 694,211.5 696.5,206.9 695.5,206.4 688.8,219.6 688,219.2 689.4,216.5 688.6,216.1 689.4,214.4 688.5,214 690.7,209.2 689.8,208.8 688.8,211 687.9,210.7 685.7,216.2 684.9,215.8 686.5,211.8 685.6,211.5 686,210.5 685.1,210.2 688,201.8 686.9,201.4 684.2,209.8 683.3,209.5 684.3,206.3 683.3,206 683.2,206.4 682.2,206.1 684.9,196.1 683.8,195.8 680.8,207.9 679.8,207.7 680.1,206.5 679.1,206.3 678,211.7 677.1,211.5 677.7,208.6 676.8,208.5 675.3,216.4 674.6,216.3 675.5,210.1 674.6,210 675.3,205.6 674.3,205.5 673.2,214.3 672.4,214.2 673.1,207.3 672.2,207.2 671.7,212.4 670.8,212.3 671.2,206.8 670.3,206.7 669.8,215.2 669,215.2 669.4,203.6 668.4,203.6 668.2,215.6 667.4,215.6 667.4,204.6 666.4,204.6 666.5,210.3 665.6,210.3 665.3,202.6 664.3,202.6 664.9,213.5 664,213.6 664.1,214.4 663.3,214.5 663,210.7 662.1,210.8 661.7,207 660.7,207.2 661.6,214.2 660.8,214.3 660.3,210.8 659.4,211 658.3,203.8 657.3,204 659.1,214.4 658.3,214.5 658.3,214.7 657.5,214.9 657.8,216.3 657,216.5 654.9,207.3 653.9,207.5 653.8,207 652.9,207.2 650.5,198.3 649.4,198.6 651.3,205.3 650.3,205.6 651.4,209.1 650.5,209.4 652.6,216 651.8,216.2 648.9,207.6 647.9,208 648,208.1 647,208.5 647,208.2 646,208.6 648.2,213.9 647.4,214.3 641.7,200.9 640.6,201.3 641.6,203.6 640.6,204 644.1,211.5 643.2,211.9 638.9,203.1 637.9,203.6 643.1,213.7 642.2,214.2 637.3,204.8 636.3,205.4 637.3,207.2 636.4,207.8 638.3,211.1 637.4,211.6 633.4,204.9 632.4,205.5 633.8,207.7 632.9,208.3 636.1,213.3 635.3,213.8 633.9,211.8 633,212.4 630.2,208.4 629.3,209.1 627.6,206.7 626.6,207.4 632.7,215.5 631.9,216.1 629.4,212.9 628.6,213.6 629.8,215 628.9,215.7 636.8,225.1 636.2,225.6 634.4,223.6 633.8,224.1 633.5,223.9 632.9,224.5 638.1,230 637.5,230.5 630.8,223.6 630.1,224.2 633.1,227.2 632.5,227.8 633.4,228.7 632.9,229.3 634.8,231.1 634.3,231.7 640.4,237.2 640,237.6 636.1,234.2 635.6,234.8 640.6,239 640.2,239.5 635,235.3 634.6,235.9 636.2,237.2 635.8,237.7 637.9,239.3 637.5,239.8 642,243.1 641.7,243.5 640,242.3 639.6,242.8 642.8,244.9 642.5,245.3 639.7,243.5 639.4,244 644.8,247.4 644.6,247.8 644.3,247.6 644,248Z" fill="url(#go)"/>
<path d="M703.5,242.3 L717,235.1 L716.4,234 L703,241.5 Z M702.7,241.9 L714.4,235.5 L713.8,234.4 L702.3,241.1 Z M706.9,238.7 L714.2,234.5 L713.6,233.4 L706.4,237.8 Z M703.3,239.9 L712.6,234.3 L712,233.3 L702.8,239.1 Z M707.7,236.3 L713,233 L712.3,232 L707.1,235.4 Z M707,235.8 L711.6,232.8 L710.9,231.8 L706.4,234.9 Z M707.4,234.5 L709.3,233.3 L708.6,232.3 L706.8,233.6 Z M703,236.6 L716.3,227.3 L715.5,226.2 L702.4,235.8 Z M704.8,234.3 L712.1,229 L711.3,228 L704.2,233.5 Z M700.2,236.8 L714.5,226 L713.7,225 L699.6,236.1 Z M705.4,231.8 L711,227.4 L710.2,226.4 L704.8,230.9 Z M700.4,234.8 L712,225.4 L711.2,224.4 L699.8,234 Z M699.9,234.2 L708.6,226.9 L707.8,226 L699.3,233.5 Z M699.1,234 L706.2,227.7 L705.5,226.9 L698.4,233.3 Z M697.7,234.2 L705.2,227.5 L704.4,226.7 L697.1,233.5 Z M703.6,227.7 L708.5,223.2 L707.6,222.3 L702.8,226.9 Z M699.2,230.8 L705.5,224.7 L704.7,223.9 L698.5,230.1 Z M702.5,226.4 L704.9,224 L704.1,223.1 L701.7,225.6 Z M701.5,226.2 L708.2,219.3 L707.2,218.4 L700.7,225.4 Z M699.3,227.3 L707.6,218.4 L706.6,217.5 L698.5,226.6 Z M694.6,231.3 L705.9,218.8 L704.9,217.9 L693.9,230.7 Z M697.3,227.2 L702.1,221.6 L701.2,220.8 L696.5,226.5 Z M694.6,229 L702.2,220 L701.3,219.2 L693.9,228.4 Z M695,227.4 L699.2,222.3 L698.3,221.6 L694.2,226.8 Z M691.1,231.1 L702,217.3 L700.9,216.5 L690.4,230.6 Z M694.4,225.7 L697.8,221.1 L696.9,220.5 L693.5,225.1 Z M693.4,225.7 L698.6,218.6 L697.6,217.9 L692.6,225.1 Z M692,226.3 L699.1,216.2 L698.1,215.5 L691.2,225.8 Z M689.5,228.7 L697,217.6 L696,216.9 L688.8,228.2 Z M693.5,221.3 L696.6,216.5 L695.6,215.8 L692.6,220.7 Z M687.6,229.1 L694.7,217.8 L693.7,217.1 L686.9,228.7 Z M691.3,221.7 L697.3,211.8 L696.1,211.1 L690.4,221.1 Z M686.8,227.9 L694.7,214.3 L693.6,213.7 L686,227.5 Z M689.7,221.3 L692.3,216.5 L691.3,215.9 L688.8,220.8 Z" fill="#ff8a08" opacity="0.8"/>
<path d="M667.4,261.5 L659.8,280.4 660.1,280.5 660,280.8 660.3,280.9 660.2,281.2 660.6,281.3 660.5,281.6 660.8,281.7 660.7,282 661.1,282.1 661,282.4 661.4,282.5 661.3,282.9 661.6,283 661.6,283.3 661.9,283.4 661.8,283.8 662.2,283.9 662.1,284.3 662.5,284.4 662.4,284.8 662.9,284.9 662.8,285.3 663.2,285.4 663.1,285.9 663.5,285.9 663.5,286.4 663.9,286.5 663.8,287 664.3,287.1 664.2,287.6 664.6,287.7 664.6,288.2 665.1,288.3 665,288.9 665.5,288.9 665.4,289.6 665.9,289.6 665.9,290.3 666.4,290.3 666.4,291 666.9,291.1 666.9,291.8 667.4,291.8 667.4,292.7 667.9,292.6 668,293.5 668.5,293.5 668.5,294.4 669.1,294.4 669.2,295.4 669.8,295.3 669.8,296.4 670.4,296.3 670.5,297.4 671.2,297.4 671.3,298.6 671.9,298.5 671.7,296.9 672.4,296.8 673,301.1 673.6,301 673.9,302.4 674.6,302.3 674.9,303.9 675.6,303.7 675.9,305.4 676.7,305.3 677.1,307.1 677.9,306.9 677.2,304.1 678,304 678.4,305.5 679.1,305.3 681.2,313 682.1,312.8 677.3,296.2 678,296 682.3,310.3 683.2,310 679.3,298.2 680,298 686.9,318.1 687.9,317.8 683.4,305.5 684.2,305.2 687.7,314.5 688.7,314.1 683.6,301.6 684.3,301.3 692.1,319.7 693.1,319.2 693.5,320 694.5,319.6 694.7,320 695.7,319.5 687.9,303.6 688.7,303.2 686.2,298.4 686.8,298 693.9,311.4 694.8,310.9 695.4,311.9 696.2,311.4 696.3,311.6 697.2,311.1 700.3,316.2 701.2,315.6 702,316.9 702.9,316.2 693.4,301.5 694.1,301 703.3,314.7 704.2,314 703.7,313.3 704.6,312.7 692.2,295.7 692.8,295.2 699.4,304 700.1,303.4 694.7,296.5 695.4,296 707.4,310.9 708.2,310.2 707.2,308.9 708,308.2 697.1,295.7 697.7,295.1 696.9,294.3 697.5,293.8 710.9,308.2 711.7,307.4 698.7,293.9 699.2,293.3 702.8,296.9 703.4,296.3 707.4,300.1 708.1,299.4 703.9,295.5 704.5,294.9 713.6,303.1 714.3,302.3 715.7,303.5 716.4,302.6 717.6,303.6 718.3,302.7 715.5,300.4 716.2,299.6Z" fill="#ff1000"/>
<path d="M667.4,261.5 L660,279.8 660.3,280 660.3,280.1 660.6,280.2 660.4,280.8 660.7,280.9 661.4,279 661.7,279.1 661.5,279.5 661.9,279.6 660.6,283.9 661,284 661.7,281.4 662,281.5 661.2,284.8 661.6,284.9 661.5,285.1 661.9,285.2 662.3,283.6 662.7,283.7 662.4,285.1 662.8,285.2 662.7,285.5 663.2,285.5 663.5,283.8 663.9,283.9 663.9,283.6 664.3,283.7 664.2,284.6 664.6,284.6 664.1,288.1 664.6,288.1 664.8,285.9 665.3,285.9 664.9,290.4 665.4,290.4 665.4,290.3 665.9,290.3 666.1,286.6 666.5,286.6 666.5,287.8 666.9,287.8 666.9,291.6 667.4,291.6 667.4,288.1 667.9,288.1 667.9,288.7 668.4,288.7 668.4,289 668.8,289 669.2,295.2 669.8,295.2 669.7,295.1 670.3,295 670,291.3 670.5,291.3 671.1,297 671.8,297 671.4,294.2 672,294.1 672.2,295.3 672.7,295.2 673,297.1 673.7,297 673.5,296.3 674.1,296.2 674.1,296.2 674.7,296 674.3,293.8 674.8,293.7 674.7,292.9 675.2,292.8 675.2,292.7 675.7,292.6 675.4,291.5 676,291.4 678,298.6 678.7,298.4 678.7,298.3 679.3,298.1 679,297.2 679.6,297 678,292.1 678.5,292 680.4,297.1 681,296.9 680.6,295.9 681.2,295.7 680.7,294.4 681.3,294.2 680.2,291.5 680.7,291.3 682.8,296.1 683.4,295.8 682.9,294.7 683.5,294.4 682.2,291.8 682.7,291.5 682.8,291.8 683.4,291.5 683,290.9 683.5,290.6 683.9,291.2 684.4,290.9 686.6,294.8 687.2,294.5 683.6,288.4 684,288.1 686.9,292.7 687.4,292.3 687.9,293 688.4,292.6 687.6,291.4 688.1,291 687.1,289.7 687.6,289.3 686.8,288.2 687.3,287.9 686.2,286.5 686.7,286.2 688.5,288.5 689,288.2 688.9,288.1 689.4,287.7 685.6,283.2 686,282.9 688.1,285.3 688.5,284.9 686.3,282.4 686.6,282.1 688.1,283.7 688.5,283.4 686.3,281 686.6,280.7 688.9,283 689.2,282.6 689.7,283.1 690.1,282.7 690.4,282.9 690.8,282.5 689.3,281.2 689.6,280.8 688,279.4 688.3,279 688.8,279.4 689.1,279 689.3,279.2 689.6,278.8 688.1,277.7 688.4,277.3 690.5,278.9 690.8,278.5 687,275.8 687.3,275.4 688.5,276.3 688.8,275.9 687.2,274.9 687.5,274.5 690.2,276.3 690.5,275.9 690.8,276.1 691.1,275.7 691.5,276 691.7,275.5 689.6,274.3 689.8,273.9 691.5,274.8 691.7,274.4 689.3,273.2 689.5,272.8 689.7,272.8 689.8,272.4 687.6,271.3 687.8,271 690.9,272.4 691,272 691.5,272.2 691.6,271.8 687.9,270.2 688.1,269.9 687.6,269.7 687.7,269.3 691.4,270.7 691.6,270.3 690.5,269.9 690.6,269.5 689.1,269 689.2,268.6 691.5,269.3 691.6,268.9 689.3,268.2 689.4,267.8 687,267.1 687.1,266.8 688.1,267 688.2,266.7 687,266.4 687.1,266 691.1,267 691.2,266.6 690.9,266.5 691,266.1 690.2,265.9 690.3,265.5 688.6,265.2 688.7,264.9 689.7,265 689.8,264.6 688.4,264.4 688.4,264.1 688,264 688.1,263.7 688.6,263.7 688.7,263.4 689.2,263.4 689.2,263 687.3,262.9 687.3,262.5 691.2,262.7 691.2,262.3 689.5,262.3 689.5,261.9 690.9,261.9 690.9,261.5 686.8,261.5 686.8,261.2 688.7,261.1 688.7,260.8 688.9,260.7 688.9,260.4 688.2,260.4 688.2,260 685.3,260.3 685.2,259.9 687.4,259.7 687.4,259.4 686.8,259.5 686.8,259.1 688,259 688,258.6 685.9,258.9 685.8,258.6 686,258.6 685.9,258.2 684.1,258.5 684.1,258.3 683.2,258.4 683.2,258.2 682.5,258.3 682.4,258 679.7,258.7 679.6,258.5 678.2,258.8 678.2,258.6 677.1,258.9 677,258.7Z" fill="#00007a"/>
<path d="M687.8,297.9 L690.5,302.7 L691.7,302.1 L688.8,297.3 Z M680.6,302 L682.8,308.8 L684.1,308.3 L681.7,301.6 Z M687.5,298.5 L691.3,305.4 L692.5,304.7 L688.5,297.9 Z M688.6,295.9 L691.1,299.9 L692.2,299.3 L689.6,295.3 Z M680.7,304.9 L682,309 L683.3,308.6 L681.9,304.5 Z M696.1,297.4 L698.5,300.4 L699.5,299.5 L697.1,296.6 Z M684.6,291.7 L686.5,294.9 L687.4,294.4 L685.5,291.2 Z M676.4,296.6 L677.6,300.9 L678.7,300.6 L677.4,296.3 Z M677.9,293.3 L680.2,300.5 L681.3,300.2 L678.8,293 Z M681.4,303.6 L683.1,308.7 L684.4,308.2 L682.6,303.2 Z M674.8,302.1 L675.8,307.2 L677.1,307 L676,301.9 Z M680.5,305.3 L681.8,309.6 L683.1,309.2 L681.7,304.9 Z M674,296.5 L675.2,303.1 L676.4,302.8 L675,296.3 Z M673.6,296.3 L674.9,303.5 L676.1,303.3 L674.6,296.1 Z M688.1,296 L691.4,301.3 L692.5,300.6 L689.1,295.4 Z M691.3,295.2 L695,300.3 L696,299.5 L692.3,294.5 Z" fill="#00007a"/>
<path d="M692.8,276.8 L696,278.8 L696.5,278.1 L693.2,276.2 Z M678.2,283.2 L679.2,285.3 L679.8,285 L678.7,282.9 Z M682.4,281.7 L684.8,285 L685.4,284.5 L682.9,281.3 Z M688.9,274.1 L691.7,275.7 L692,275.1 L689.2,273.5 Z M685.9,276.6 L689.4,279.5 L689.8,279 L686.2,276.2 Z M681.4,278.7 L684.3,282.3 L684.8,281.9 L681.9,278.4 Z M687,284.1 L690,287.6 L690.7,287.1 L687.6,283.6 Z M689.8,274.6 L691.6,275.6 L691.9,275 L690.1,274 Z M694.9,279.6 L696.8,280.9 L697.3,280.2 L695.3,278.9 Z M678.8,283.3 L680.7,287 L681.3,286.7 L679.3,283 Z M689.1,272.7 L691.8,274.1 L692.1,273.5 L689.3,272.2 Z M690.5,276.3 L692.7,277.7 L693.1,277.1 L690.9,275.8 Z M681.3,278.8 L684,282.2 L684.5,281.8 L681.7,278.5 Z M681.8,283.3 L684.1,286.8 L684.8,286.4 L682.3,282.9 Z" fill="#ff1000"/>
<path d="M667.4,261.5 L629.1,258.8 629.1,259.5 622.4,259.1 622.4,259.9 627.9,260.1 627.9,260.8 622.9,260.7 622.8,261.5 616.9,261.5 616.9,262.4 617.5,262.4 617.5,263.2 617.3,263.2 617.3,264.1 615.6,264.2 615.7,265.1 618.6,264.9 618.7,265.8 615.8,266 615.9,266.9 619,266.6 619.1,267.4 618.9,267.5 619,268.3 608.9,269.7 609,270.7 612.3,270.2 612.5,271.2 611.9,271.3 612,272.3 613.1,272.1 613.3,273 618.7,271.8 618.9,272.7 616.5,273.2 616.8,274.1 615.5,274.4 615.8,275.3 609.2,277.1 609.5,278.1 609.4,278.1 609.7,279.1 610,279.1 610.3,280.1 611.2,279.8 611.5,280.7 617.6,278.7 617.9,279.5 621.6,278.2 621.9,279 614,282 614.4,282.9 624,279 624.3,279.8 617.1,282.9 617.5,283.7 624.2,280.7 624.6,281.5 620.6,283.3 621,284.1 620.8,284.2 621.2,285.1 620.9,285.2 621.3,286 628.2,282.3 628.6,283 624.3,285.4 624.7,286.2 624.2,286.4 624.6,287.2 626.4,286.1 626.8,286.8 631.4,284 631.8,284.6 628.5,286.7 629,287.4 632.2,285.3 632.6,285.9 634.7,284.4 635.1,284.9Z" fill="url(#gb)"/>
<path d="M650,260.3 650,260.6 652.1,260.7 652.1,261 649.9,260.9 649.9,261.2 653.8,261.3 653.8,261.5 650.5,261.5 650.5,261.8 650.6,261.8 650.6,262.1 648.5,262.2 648.5,262.5 650.7,262.4 650.7,262.7 652.1,262.6 652.1,262.8 649.8,263 649.9,263.3 649.9,263.3 649.9,263.6 653,263.3 653,263.5 651,263.8 651,264.1 653.3,263.7 653.4,264 L661.5,262.5 A6,6 0 0 1 661.4,261.1 Z" fill="#ff1000"/>
<path d="M632.8,232.2 L630.2,230 L629.4,231 L632,233.1 Z M630.6,211.8 L628,208.4 L626.7,209.4 L629.3,212.8 Z M636.5,234 L632.5,230.5 L631.7,231.4 L635.8,234.8 Z M635.2,239.6 L630.9,236.7 L630.3,237.7 L634.6,240.4 Z M635.7,237.4 L631.2,234 L630.5,235 L635.1,238.3 Z M640.1,240.6 L636.8,238 L636.2,238.8 L639.6,241.3 Z M630.9,226.8 L626.3,222.4 L625.3,223.5 L630,227.8 Z M639.8,242.7 L634.7,239.2 L634.1,240.1 L639.3,243.4 Z M639.3,241.7 L635.1,238.7 L634.5,239.6 L638.8,242.5 Z M630.4,227.3 L625.4,222.6 L624.4,223.7 L629.6,228.2 Z M641.5,247.2 L636.9,244.7 L636.5,245.5 L641.1,247.9 Z M631.8,224.4 L628.3,220.8 L627.3,221.8 L630.8,225.3 Z M640,240.5 L635,236.6 L634.4,237.4 L639.5,241.2 Z M632.2,222 L629.9,219.5 L628.8,220.4 L631.2,223 Z M633.4,235.6 L629.5,232.6 L628.7,233.6 L632.7,236.5 Z M632.1,228.6 L627.2,224.1 L626.3,225.1 L631.2,229.5 Z M631.3,221.3 L628.9,218.6 L627.8,219.6 L630.3,222.3 Z M630.4,227.9 L627.7,225.4 L626.8,226.5 L629.5,228.9 Z M635.9,238.8 L631.9,235.9 L631.2,236.8 L635.3,239.6 Z M637.1,238.8 L633.3,236 L632.7,236.9 L636.5,239.6 Z M627,209.3 L624.7,206.4 L623.3,207.5 L625.7,210.4 Z M635.2,237.1 L632.7,235.2 L632,236.2 L634.5,238 Z M643,248 L636.9,244.6 L636.5,245.4 L642.7,248.7 Z M631.3,215.7 L628.2,211.8 L626.9,212.8 L630.1,216.6 Z M631.3,218.3 L628.9,215.3 L627.7,216.3 L630.2,219.2 Z M635.8,232.9 L633.3,230.7 L632.5,231.6 L635,233.8 Z" fill="#0a0a98"/>
</g>
<line x1="667.4" y1="261.5" x2="628.7" y2="245.1" stroke="#ff1000" stroke-width="1" stroke-dasharray="1.5,1.5"/>
<line x1="667.4" y1="261.5" x2="652.9" y2="283.1" stroke="#400" stroke-width="0.9" stroke-dasharray="1.2,2"/>
<circle cx="667.4" cy="261.5" r="4.4" fill="#fff"/>
<clipPath id="bc0"><path d="M502.4,272.8 509.4,272.4 510.1,280.1 509.4,289.7 511.7,298.4 515.5,305.6 513.6,307.5 507.8,305.6 503.6,298.4 501.1,290.7 503,282Z"/></clipPath>
<path d="M502.4,272.8 509.4,272.4 510.1,280.1 509.4,289.7 511.7,298.4 515.5,305.6 513.6,307.5 507.8,305.6 503.6,298.4 501.1,290.7 503,282Z" fill="#000078"/>
<path d="M505.3,272.2 512.2,271.8 513,279.6 512.2,289.2 514.5,297.9 518.4,305 516.5,307 510.7,305 506.4,297.9 503.9,290.2 505.9,281.5Z" fill="#ff0000" clip-path="url(#bc0)"/>
<path d="M502.4,272.8 509.4,272.4 510.1,280.1 509.4,289.7 511.7,298.4 515.5,305.6 513.6,307.5 507.8,305.6 503.6,298.4 501.1,290.7 503,282Z" fill="none" stroke="#fff" stroke-width="1.0"/>
<clipPath id="bc1"><path d="M527.3,302.3 532.1,304.2 536.9,311 534.4,314.8 531.2,317.2 520.2,322.8 529.8,315.6 528.3,311 527.3,305.6Z"/></clipPath>
<path d="M527.3,302.3 532.1,304.2 536.9,311 534.4,314.8 531.2,317.2 520.2,322.8 529.8,315.6 528.3,311 527.3,305.6Z" fill="#000078"/>
<path d="M530,301.3 534.8,303.2 539.7,310 537.2,313.9 533.9,316.2 522.9,321.8 532.5,314.6 531,310 530,304.6Z" fill="#ff0000" clip-path="url(#bc1)"/>
<path d="M527.3,302.3 532.1,304.2 536.9,311 534.4,314.8 531.2,317.2 520.2,322.8 529.8,315.6 528.3,311 527.3,305.6Z" fill="none" stroke="#fff" stroke-width="1.0"/>
<clipPath id="bc2"><path d="M504,328.7 511.7,326.8 518.4,329.3 522.3,335.1 523.7,339.9 519.4,342.8 516.5,339 514.6,334.2 509.8,330.3Z"/></clipPath>
<path d="M504,328.7 511.7,326.8 518.4,329.3 522.3,335.1 523.7,339.9 519.4,342.8 516.5,339 514.6,334.2 509.8,330.3Z" fill="#000078"/>
<path d="M506.6,327.5 514.3,325.6 521.1,328.1 524.9,333.9 526.3,338.7 522,341.6 519.1,337.7 517.2,332.9 512.4,329Z" fill="#ff0000" clip-path="url(#bc2)"/>
<path d="M504,328.7 511.7,326.8 518.4,329.3 522.3,335.1 523.7,339.9 519.4,342.8 516.5,339 514.6,334.2 509.8,330.3Z" fill="none" stroke="#fff" stroke-width="1.0"/>
<clipPath id="bc3"><path d="M526.2,338 531,336.5 535.8,341.9 538.7,347.7 535.8,349.6 530,347.7 527.1,342.8Z"/></clipPath>
<path d="M526.2,338 531,336.5 535.8,341.9 538.7,347.7 535.8,349.6 530,347.7 527.1,342.8Z" fill="#000078"/>
<path d="M528.6,336.5 533.5,335 538.3,340.4 541.2,346.2 538.3,348.1 532.5,346.2 529.6,341.3Z" fill="#ff0000" clip-path="url(#bc3)"/>
<path d="M526.2,338 531,336.5 535.8,341.9 538.7,347.7 535.8,349.6 530,347.7 527.1,342.8Z" fill="none" stroke="#fff" stroke-width="1.0"/>
<clipPath id="bc4"><path d="M657.4,284.7 660.5,277.9 663.7,279.5 669.5,285.8 670,290.5 674.2,293.7 675.3,298.9 678.4,304.2 681.6,302.6 683.2,307.4 687.4,312.6 689.8,317.5 692.6,321 693.2,324.9 690.9,326.7 688.6,324.4 686.9,319.5 682.1,314.7 677.4,309.5 674.7,303.2 670.5,298.9 669.5,293.7 665.8,290 661.1,286.8Z"/></clipPath>
<path d="M657.4,284.7 660.5,277.9 663.7,279.5 669.5,285.8 670,290.5 674.2,293.7 675.3,298.9 678.4,304.2 681.6,302.6 683.2,307.4 687.4,312.6 689.8,317.5 692.6,321 693.2,324.9 690.9,326.7 688.6,324.4 686.9,319.5 682.1,314.7 677.4,309.5 674.7,303.2 670.5,298.9 669.5,293.7 665.8,290 661.1,286.8Z" fill="#000078"/>
<path d="M659.2,283.4 662.3,276.6 665.5,278.2 671.3,284.5 671.8,289.2 676,292.4 677.1,297.6 680.2,302.9 683.4,301.3 685,306.1 689.2,311.3 691.6,316.2 694.4,319.7 695,323.6 692.7,325.4 690.4,323.1 688.7,318.2 683.9,313.4 679.2,308.2 676.5,301.9 672.3,297.6 671.3,292.4 667.6,288.7 662.9,285.5Z" fill="#ff0000" clip-path="url(#bc4)"/>
<clipPath id="bc5"><path d="M700,327.2 702.9,325.5 704,329.5 702.9,332.4 700.6,331.2 699.5,333.5 700,337.5 698.3,339.2 696.1,335.8 695.8,332.4 697.8,330.6Z"/></clipPath>
<path d="M700,327.2 702.9,325.5 704,329.5 702.9,332.4 700.6,331.2 699.5,333.5 700,337.5 698.3,339.2 696.1,335.8 695.8,332.4 697.8,330.6Z" fill="#000078"/>
<path d="M698.8,324.6 701.7,322.9 702.8,326.9 701.7,329.7 699.4,328.6 698.3,330.9 698.8,334.8 697.1,336.6 694.8,333.1 694.6,329.7 696.6,328Z" fill="#ff0000" clip-path="url(#bc5)"/>
<path d="M700,327.2 702.9,325.5 704,329.5 702.9,332.4 700.6,331.2 699.5,333.5 700,337.5 698.3,339.2 696.1,335.8 695.8,332.4 697.8,330.6Z" fill="none" stroke="#fff" stroke-width="1.0"/>
<clipPath id="bc6"><path d="M706.9,338.6 709.7,336.9 714.3,338 717.1,341.5 716.6,344.3 713.2,343.2 711.4,348.3 710.3,356.3 709.5,363.7 708,362 706.3,355.1 706.1,347.2 707.5,342.6Z"/></clipPath>
<path d="M706.9,338.6 709.7,336.9 714.3,338 717.1,341.5 716.6,344.3 713.2,343.2 711.4,348.3 710.3,356.3 709.5,363.7 708,362 706.3,355.1 706.1,347.2 707.5,342.6Z" fill="#000078"/>
<path d="M705.6,336 708.4,334.3 713,335.5 715.8,338.9 715.3,341.7 711.9,340.6 710.1,345.7 709,353.7 708.2,361.1 706.7,359.4 705,352.6 704.8,344.6 706.2,340Z" fill="#ff0000" clip-path="url(#bc6)"/>
<path d="M706.9,338.6 709.7,336.9 714.3,338 717.1,341.5 716.6,344.3 713.2,343.2 711.4,348.3 710.3,356.3 709.5,363.7 708,362 706.3,355.1 706.1,347.2 707.5,342.6Z" fill="none" stroke="#fff" stroke-width="1.0"/>
<clipPath id="bc7"><path d="M720,346.6 722.3,346 725.1,348.3 728,351.7 730.8,350.6 731.4,347.2 734.8,345.5 739.4,346 743.9,342.6 747.9,345.5 751.3,348.9 751.7,351.2 748.5,349.4 743.9,351.7 739.4,350.6 736.5,353.4 735.9,360.8 733.7,360.8 729.7,356.9 725.1,355.1 722.3,351.7Z"/></clipPath>
<path d="M720,346.6 722.3,346 725.1,348.3 728,351.7 730.8,350.6 731.4,347.2 734.8,345.5 739.4,346 743.9,342.6 747.9,345.5 751.3,348.9 751.7,351.2 748.5,349.4 743.9,351.7 739.4,350.6 736.5,353.4 735.9,360.8 733.7,360.8 729.7,356.9 725.1,355.1 722.3,351.7Z" fill="#000078"/>
<path d="M718.2,344.3 720.5,343.7 723.4,346 726.2,349.4 729.1,348.3 729.6,344.9 733,343.2 737.6,343.7 742.2,340.3 746.1,343.2 749.6,346.6 749.9,348.8 746.7,347.1 742.2,349.4 737.6,348.3 734.8,351.1 734.2,358.5 731.9,358.5 727.9,354.5 723.4,352.8 720.5,349.4Z" fill="#ff0000" clip-path="url(#bc7)"/>
<path d="M720,346.6 722.3,346 725.1,348.3 728,351.7 730.8,350.6 731.4,347.2 734.8,345.5 739.4,346 743.9,342.6 747.9,345.5 751.3,348.9 751.7,351.2 748.5,349.4 743.9,351.7 739.4,350.6 736.5,353.4 735.9,360.8 733.7,360.8 729.7,356.9 725.1,355.1 722.3,351.7Z" fill="none" stroke="#fff" stroke-width="1.0"/>
<line x1="629.3" y1="318" x2="633.3" y2="310.5" stroke="#1010c0" stroke-width="1.3"/>
<path d="M480.9,179 489.7,179 492.9,176.2 495,173.1 500.2,175.2 508.7,180.9 512.9,179.8 521.3,177.3 531.8,172 542.3,165.7 548.6,161.9 549,154.1 551.1,153.7 551.8,148.9 554.5,146.8 552.8,143.6 548.6,144.7 546.1,141.5 548.6,137.3 551.8,134.6 573.9,133.1 574.9,145.7 583.3,145.7 584.4,135.2 588.6,132.1 591.7,134.8 599.1,136.3 605,138.4 600.3,136.3 605.5,139 611.8,137.3 620.2,137.7 625.5,139.8 627.6,143 633.9,142.6 640.2,140.5 644.4,137.3 649.7,137.7 652.8,134.8 657.1,133.1 659.2,135.6 664.4,132.1 663.4,129.5 658.1,132.1 659.2,135.6 664.4,132.1 666.5,126.8 672.8,125.1 676,122.6 678.1,126.8 681.2,126.4 682.3,122.6 684.4,116.7 691.8,117.3 692.8,120.5 692.1,120.5 697.4,120.1 698.4,122.6 700.9,122.6 701.6,131 703.7,133.1 704.3,136.9 696.3,137.3 698.8,145.3 705.8,143.6 704.3,140.5 707.9,140 710.4,144.7 715.2,143 713.6,137.3 715.7,136.7 716.9,140 726.2,136.3 723.7,129.5 716.3,132.5 708.9,128.9 715.7,125.7 708.9,109.3 719.9,104.3 728.9,126.8 734.2,123.6 735.9,126.8 728.9,131.4 730,132.5 740.5,127.2 735.2,116.7 740.1,115.2 741.5,119.4 745.7,116.3 743.6,113.1 740.5,114.2 733.1,102.6 739.4,96.3 753.1,107.9 758.4,101.6 756.3,99.4 752.7,102.6 741.5,90 744.7,81.6 751,79.5 759.4,80.9 772,85.1 774.1,75.3M519.6,75.3 513.9,82.2 512.9,84.7 513.3,95.2 516,99.4 520.2,107.9 523.4,110.6 529.3,111.4 532.8,108.5 536,108.9 542.3,106.2 544,99.4 548.6,96.3 550.3,91 554.9,89.4 553.9,82.6 553.3,75.3M507,84.7 509.1,83.9 509.5,85.6 507.4,86.4ZM669,113.1 670.7,116.7M767.8,76.3 769.9,79.5 771.2,75.9" fill="none" stroke="#000" stroke-width="1.2" stroke-linejoin="round"/>
</g>
<rect x="480.1" y="74.4" width="374.7" height="374.5" fill="none" stroke="#000" stroke-width="2"/>
<path d="M59.3,74.4 v-14.3 M59.3,448.9 v14.6 M59.3,74.4 h-15.2 M433.7,74.4 h14.7 M152.9,74.4 v-14.3 M152.9,448.9 v14.6 M59.3,168 h-15.2 M433.7,168 h14.7 M246.5,74.4 v-14.3 M246.5,448.9 v14.6 M59.3,261.6 h-15.2 M433.7,261.6 h14.7 M340.1,74.4 v-14.3 M340.1,448.9 v14.6 M59.3,355.3 h-15.2 M433.7,355.3 h14.7 M433.7,74.4 v-14.3 M433.7,448.9 v14.6 M59.3,448.9 h-15.2 M433.7,448.9 h14.7" stroke="#000" stroke-width="2" fill="none"/>
<path d="M71,74.4 v-7 M71,448.9 v7.8 M59.3,86.1 h-7.3 M433.7,86.1 h7.3 M82.7,74.4 v-7 M82.7,448.9 v7.8 M59.3,97.8 h-7.3 M433.7,97.8 h7.3 M94.4,74.4 v-7 M94.4,448.9 v7.8 M59.3,109.5 h-7.3 M433.7,109.5 h7.3 M106.1,74.4 v-7 M106.1,448.9 v7.8 M59.3,121.2 h-7.3 M433.7,121.2 h7.3 M117.8,74.4 v-7 M117.8,448.9 v7.8 M59.3,132.9 h-7.3 M433.7,132.9 h7.3 M129.5,74.4 v-7 M129.5,448.9 v7.8 M59.3,144.6 h-7.3 M433.7,144.6 h7.3 M141.2,74.4 v-7 M141.2,448.9 v7.8 M59.3,156.3 h-7.3 M433.7,156.3 h7.3 M164.6,74.4 v-7 M164.6,448.9 v7.8 M59.3,179.7 h-7.3 M433.7,179.7 h7.3 M176.3,74.4 v-7 M176.3,448.9 v7.8 M59.3,191.4 h-7.3 M433.7,191.4 h7.3 M188,74.4 v-7 M188,448.9 v7.8 M59.3,203.1 h-7.3 M433.7,203.1 h7.3 M199.7,74.4 v-7 M199.7,448.9 v7.8 M59.3,214.8 h-7.3 M433.7,214.8 h7.3 M211.4,74.4 v-7 M211.4,448.9 v7.8 M59.3,226.5 h-7.3 M433.7,226.5 h7.3 M223.1,74.4 v-7 M223.1,448.9 v7.8 M59.3,238.2 h-7.3 M433.7,238.2 h7.3 M234.8,74.4 v-7 M234.8,448.9 v7.8 M59.3,249.9 h-7.3 M433.7,249.9 h7.3 M258.2,74.4 v-7 M258.2,448.9 v7.8 M59.3,273.4 h-7.3 M433.7,273.4 h7.3 M269.9,74.4 v-7 M269.9,448.9 v7.8 M59.3,285.1 h-7.3 M433.7,285.1 h7.3 M281.6,74.4 v-7 M281.6,448.9 v7.8 M59.3,296.8 h-7.3 M433.7,296.8 h7.3 M293.3,74.4 v-7 M293.3,448.9 v7.8 M59.3,308.5 h-7.3 M433.7,308.5 h7.3 M305,74.4 v-7 M305,448.9 v7.8 M59.3,320.2 h-7.3 M433.7,320.2 h7.3 M316.7,74.4 v-7 M316.7,448.9 v7.8 M59.3,331.9 h-7.3 M433.7,331.9 h7.3 M328.4,74.4 v-7 M328.4,448.9 v7.8 M59.3,343.6 h-7.3 M433.7,343.6 h7.3 M351.8,74.4 v-7 M351.8,448.9 v7.8 M59.3,367 h-7.3 M433.7,367 h7.3 M363.5,74.4 v-7 M363.5,448.9 v7.8 M59.3,378.7 h-7.3 M433.7,378.7 h7.3 M375.2,74.4 v-7 M375.2,448.9 v7.8 M59.3,390.4 h-7.3 M433.7,390.4 h7.3 M386.9,74.4 v-7 M386.9,448.9 v7.8 M59.3,402.1 h-7.3 M433.7,402.1 h7.3 M398.6,74.4 v-7 M398.6,448.9 v7.8 M59.3,413.8 h-7.3 M433.7,413.8 h7.3 M410.3,74.4 v-7 M410.3,448.9 v7.8 M59.3,425.5 h-7.3 M433.7,425.5 h7.3 M422,74.4 v-7 M422,448.9 v7.8 M59.3,437.2 h-7.3 M433.7,437.2 h7.3" stroke="#000" stroke-width="1.1" fill="none"/>
<path d="M480.1,74.4 v-14.3 M480.1,448.9 v14.6 M480.1,74.4 h-15.2 M854.8,74.4 h14.7 M573.8,74.4 v-14.3 M573.8,448.9 v14.6 M480.1,168 h-15.2 M854.8,168 h14.7 M667.5,74.4 v-14.3 M667.5,448.9 v14.6 M480.1,261.6 h-15.2 M854.8,261.6 h14.7 M761.1,74.4 v-14.3 M761.1,448.9 v14.6 M480.1,355.3 h-15.2 M854.8,355.3 h14.7 M854.8,74.4 v-14.3 M854.8,448.9 v14.6 M480.1,448.9 h-15.2 M854.8,448.9 h14.7" stroke="#000" stroke-width="2" fill="none"/>
<path d="M491.8,74.4 v-7 M491.8,448.9 v7.8 M480.1,86.1 h-7.3 M854.8,86.1 h7.3 M503.5,74.4 v-7 M503.5,448.9 v7.8 M480.1,97.8 h-7.3 M854.8,97.8 h7.3 M515.2,74.4 v-7 M515.2,448.9 v7.8 M480.1,109.5 h-7.3 M854.8,109.5 h7.3 M526.9,74.4 v-7 M526.9,448.9 v7.8 M480.1,121.2 h-7.3 M854.8,121.2 h7.3 M538.6,74.4 v-7 M538.6,448.9 v7.8 M480.1,132.9 h-7.3 M854.8,132.9 h7.3 M550.4,74.4 v-7 M550.4,448.9 v7.8 M480.1,144.6 h-7.3 M854.8,144.6 h7.3 M562.1,74.4 v-7 M562.1,448.9 v7.8 M480.1,156.3 h-7.3 M854.8,156.3 h7.3 M585.5,74.4 v-7 M585.5,448.9 v7.8 M480.1,179.7 h-7.3 M854.8,179.7 h7.3 M597.2,74.4 v-7 M597.2,448.9 v7.8 M480.1,191.4 h-7.3 M854.8,191.4 h7.3 M608.9,74.4 v-7 M608.9,448.9 v7.8 M480.1,203.1 h-7.3 M854.8,203.1 h7.3 M620.6,74.4 v-7 M620.6,448.9 v7.8 M480.1,214.8 h-7.3 M854.8,214.8 h7.3 M632.3,74.4 v-7 M632.3,448.9 v7.8 M480.1,226.5 h-7.3 M854.8,226.5 h7.3 M644,74.4 v-7 M644,448.9 v7.8 M480.1,238.2 h-7.3 M854.8,238.2 h7.3 M655.7,74.4 v-7 M655.7,448.9 v7.8 M480.1,249.9 h-7.3 M854.8,249.9 h7.3 M679.2,74.4 v-7 M679.2,448.9 v7.8 M480.1,273.4 h-7.3 M854.8,273.4 h7.3 M690.9,74.4 v-7 M690.9,448.9 v7.8 M480.1,285.1 h-7.3 M854.8,285.1 h7.3 M702.6,74.4 v-7 M702.6,448.9 v7.8 M480.1,296.8 h-7.3 M854.8,296.8 h7.3 M714.3,74.4 v-7 M714.3,448.9 v7.8 M480.1,308.5 h-7.3 M854.8,308.5 h7.3 M726,74.4 v-7 M726,448.9 v7.8 M480.1,320.2 h-7.3 M854.8,320.2 h7.3 M737.7,74.4 v-7 M737.7,448.9 v7.8 M480.1,331.9 h-7.3 M854.8,331.9 h7.3 M749.4,74.4 v-7 M749.4,448.9 v7.8 M480.1,343.6 h-7.3 M854.8,343.6 h7.3 M772.8,74.4 v-7 M772.8,448.9 v7.8 M480.1,367 h-7.3 M854.8,367 h7.3 M784.5,74.4 v-7 M784.5,448.9 v7.8 M480.1,378.7 h-7.3 M854.8,378.7 h7.3 M796.3,74.4 v-7 M796.3,448.9 v7.8 M480.1,390.4 h-7.3 M854.8,390.4 h7.3 M808,74.4 v-7 M808,448.9 v7.8 M480.1,402.1 h-7.3 M854.8,402.1 h7.3 M819.7,74.4 v-7 M819.7,448.9 v7.8 M480.1,413.8 h-7.3 M854.8,413.8 h7.3 M831.4,74.4 v-7 M831.4,448.9 v7.8 M480.1,425.5 h-7.3 M854.8,425.5 h7.3 M843.1,74.4 v-7 M843.1,448.9 v7.8 M480.1,437.2 h-7.3 M854.8,437.2 h7.3" stroke="#000" stroke-width="1.1" fill="none"/>
<text transform="translate(59.3,499.9) scale(1.02,1)" font-size="29.4" text-anchor="middle">−8</text>
<text transform="translate(480.1,499.9) scale(1.02,1)" font-size="29.4" text-anchor="middle">−8</text>
<text transform="translate(31.6,459.4) scale(1.04,1)" font-size="29.4" text-anchor="end">−8</text>
<text transform="translate(152.9,499.9) scale(1.02,1)" font-size="29.4" text-anchor="middle">−4</text>
<text transform="translate(573.8,499.9) scale(1.02,1)" font-size="29.4" text-anchor="middle">−4</text>
<text transform="translate(31.6,365.8) scale(1.04,1)" font-size="29.4" text-anchor="end">−4</text>
<text transform="translate(246.5,499.9) scale(1.02,1)" font-size="29.4" text-anchor="middle">0</text>
<text transform="translate(667.5,499.9) scale(1.02,1)" font-size="29.4" text-anchor="middle">0</text>
<text transform="translate(31.6,272.1) scale(1.04,1)" font-size="29.4" text-anchor="end">0</text>
<text transform="translate(340.1,499.9) scale(1.02,1)" font-size="29.4" text-anchor="middle">4</text>
<text transform="translate(761.1,499.9) scale(1.02,1)" font-size="29.4" text-anchor="middle">4</text>
<text transform="translate(31.6,178.5) scale(1.04,1)" font-size="29.4" text-anchor="end">4</text>
<text transform="translate(433.7,499.9) scale(1.02,1)" font-size="29.4" text-anchor="middle">8</text>
<text transform="translate(854.8,499.9) scale(1.02,1)" font-size="29.4" text-anchor="middle">8</text>
<text transform="translate(31.6,84.9) scale(1.04,1)" font-size="29.4" text-anchor="end">8</text>
<rect x="58" y="508.4" width="329" height="11" fill="#000"/>
<rect x="150.8" y="510.2" width="7.4" height="7.8" fill="rgb(9,9,9)"/>
<rect x="159.9" y="510.2" width="7.4" height="7.8" fill="rgb(19,19,19)"/>
<rect x="169" y="510.2" width="7.4" height="7.8" fill="rgb(28,28,28)"/>
<rect x="178.1" y="510.2" width="7.4" height="7.8" fill="rgb(38,38,38)"/>
<rect x="187.2" y="510.2" width="7.4" height="7.8" fill="rgb(47,47,47)"/>
<rect x="196.3" y="510.2" width="7.4" height="7.8" fill="rgb(57,57,57)"/>
<rect x="205.4" y="510.2" width="7.4" height="7.8" fill="rgb(66,66,66)"/>
<rect x="214.5" y="510.2" width="7.4" height="7.8" fill="rgb(76,76,76)"/>
<rect x="223.6" y="510.2" width="7.4" height="7.8" fill="rgb(85,85,85)"/>
<rect x="232.7" y="510.2" width="7.4" height="7.8" fill="rgb(94,94,94)"/>
<rect x="241.8" y="510.2" width="7.4" height="7.8" fill="rgb(104,104,104)"/>
<rect x="250.9" y="510.2" width="7.4" height="7.8" fill="rgb(113,113,113)"/>
<rect x="260" y="510.2" width="7.4" height="7.8" fill="rgb(123,123,123)"/>
<rect x="269.1" y="510.2" width="7.4" height="7.8" fill="rgb(132,132,132)"/>
<rect x="278.2" y="510.2" width="7.4" height="7.8" fill="rgb(142,142,142)"/>
<rect x="287.3" y="510.2" width="7.4" height="7.8" fill="rgb(151,151,151)"/>
<rect x="296.4" y="510.2" width="7.4" height="7.8" fill="rgb(161,161,161)"/>
<rect x="305.5" y="510.2" width="7.4" height="7.8" fill="rgb(170,170,170)"/>
<rect x="314.6" y="510.2" width="7.4" height="7.8" fill="rgb(179,179,179)"/>
<rect x="323.7" y="510.2" width="7.4" height="7.8" fill="rgb(189,189,189)"/>
<rect x="332.8" y="510.2" width="7.4" height="7.8" fill="rgb(198,198,198)"/>
<rect x="341.9" y="510.2" width="7.4" height="7.8" fill="rgb(208,208,208)"/>
<rect x="351" y="510.2" width="7.4" height="7.8" fill="rgb(217,217,217)"/>
<rect x="360.1" y="510.2" width="7.4" height="7.8" fill="rgb(227,227,227)"/>
<rect x="369.2" y="510.2" width="7.4" height="7.8" fill="rgb(236,236,236)"/>
<rect x="378.3" y="510.2" width="7.4" height="7.8" fill="rgb(246,246,246)"/>
<path d="M386.8,509.1 L395.7,513.9 L386.8,518.7 Z" fill="#ff0" stroke="#000" stroke-width="1.5" stroke-linejoin="miter"/>
<path d="M58.9,518.9 V533 M104.4,518.9 V533 M149.9,518.9 V533 M195.4,518.9 V533 M240.9,518.9 V533 M286.4,518.9 V533 M331.9,518.9 V533 M377.4,518.9 V533" stroke="#000" stroke-width="2" fill="none"/>
<path d="M66.9,518.9 L69.1,518.9 L68.3,526.8 L67.7,526.8 Z M76,518.9 L78.2,518.9 L77.4,526.8 L76.8,526.8 Z M85.1,518.9 L87.3,518.9 L86.5,526.8 L85.8,526.8 Z M94.2,518.9 L96.4,518.9 L95.6,526.8 L95,526.8 Z M112.4,518.9 L114.6,518.9 L113.8,526.8 L113.2,526.8 Z M121.5,518.9 L123.7,518.9 L122.9,526.8 L122.2,526.8 Z M130.6,518.9 L132.8,518.9 L132,526.8 L131.3,526.8 Z M139.7,518.9 L141.9,518.9 L141.1,526.8 L140.4,526.8 Z M157.9,518.9 L160.1,518.9 L159.3,526.8 L158.7,526.8 Z M167,518.9 L169.2,518.9 L168.4,526.8 L167.8,526.8 Z M176.1,518.9 L178.3,518.9 L177.5,526.8 L176.8,526.8 Z M185.2,518.9 L187.4,518.9 L186.6,526.8 L185.9,526.8 Z M203.4,518.9 L205.6,518.9 L204.8,526.8 L204.2,526.8 Z M212.5,518.9 L214.7,518.9 L213.9,526.8 L213.2,526.8 Z M221.6,518.9 L223.8,518.9 L223,526.8 L222.3,526.8 Z M230.7,518.9 L232.9,518.9 L232.2,526.8 L231.5,526.8 Z M248.9,518.9 L251.1,518.9 L250.3,526.8 L249.7,526.8 Z M258,518.9 L260.2,518.9 L259.4,526.8 L258.7,526.8 Z M267.1,518.9 L269.3,518.9 L268.6,526.8 L267.8,526.8 Z M276.2,518.9 L278.4,518.9 L277.6,526.8 L276.9,526.8 Z M294.4,518.9 L296.6,518.9 L295.9,526.8 L295.1,526.8 Z M303.5,518.9 L305.7,518.9 L304.9,526.8 L304.2,526.8 Z M312.6,518.9 L314.8,518.9 L314.1,526.8 L313.3,526.8 Z M321.7,518.9 L323.9,518.9 L323.1,526.8 L322.4,526.8 Z M339.9,518.9 L342.1,518.9 L341.3,526.8 L340.6,526.8 Z M349,518.9 L351.2,518.9 L350.4,526.8 L349.7,526.8 Z M358.1,518.9 L360.3,518.9 L359.6,526.8 L358.8,526.8 Z M367.2,518.9 L369.4,518.9 L368.6,526.8 L367.9,526.8 Z M385.4,518.9 L387.6,518.9 L386.8,526.8 L386.1,526.8 Z" fill="#000"/>
<text transform="translate(58.9,570.4) scale(1.02,1)" font-size="29.4" text-anchor="middle">0</text>
<text transform="translate(104.4,570.4) scale(1.02,1)" font-size="29.4" text-anchor="middle">2.5</text>
<text transform="translate(149.9,570.4) scale(1.02,1)" font-size="29.4" text-anchor="middle">5</text>
<text transform="translate(195.4,570.4) scale(1.02,1)" font-size="29.4" text-anchor="middle">7.5</text>
<text transform="translate(240.9,570.4) scale(1.02,1)" font-size="29.4" text-anchor="middle">10</text>
<text transform="translate(286.4,570.4) scale(1.02,1)" font-size="29.4" text-anchor="middle">12.5</text>
<text transform="translate(331.9,570.4) scale(1.02,1)" font-size="29.4" text-anchor="middle">15</text>
<text transform="translate(377.4,570.4) scale(1.02,1)" font-size="29.4" text-anchor="middle">17.5</text>
<rect x="480" y="508.4" width="327.8" height="11" fill="#000"/>
<rect x="481.4" y="510.2" width="6.8" height="7.8" fill="#d4ffff"/>
<rect x="644.8" y="510.2" width="6.8" height="7.8" fill="#f40000"/>
<rect x="490" y="510.2" width="6.8" height="7.8" fill="#c0ffff"/>
<rect x="653.4" y="510.2" width="6.8" height="7.8" fill="#ff1800"/>
<rect x="498.6" y="510.2" width="6.8" height="7.8" fill="#a8ffff"/>
<rect x="662" y="510.2" width="6.8" height="7.8" fill="#ff3000"/>
<rect x="507.2" y="510.2" width="6.8" height="7.8" fill="#94ffff"/>
<rect x="670.6" y="510.2" width="6.8" height="7.8" fill="#ff4800"/>
<rect x="515.8" y="510.2" width="6.8" height="7.8" fill="#80ffff"/>
<rect x="679.2" y="510.2" width="6.8" height="7.8" fill="#ff6000"/>
<rect x="524.4" y="510.2" width="6.8" height="7.8" fill="#60ecff"/>
<rect x="687.8" y="510.2" width="6.8" height="7.8" fill="#ff7000"/>
<rect x="533" y="510.2" width="6.8" height="7.8" fill="#48d4ff"/>
<rect x="696.4" y="510.2" width="6.8" height="7.8" fill="#ff8000"/>
<rect x="541.6" y="510.2" width="6.8" height="7.8" fill="#30bcff"/>
<rect x="705" y="510.2" width="6.8" height="7.8" fill="#ff9408"/>
<rect x="550.2" y="510.2" width="6.8" height="7.8" fill="#20a0ff"/>
<rect x="713.6" y="510.2" width="6.8" height="7.8" fill="#ffa810"/>
<rect x="558.8" y="510.2" width="6.8" height="7.8" fill="#1084ff"/>
<rect x="722.2" y="510.2" width="6.8" height="7.8" fill="#ffbc20"/>
<rect x="567.4" y="510.2" width="6.8" height="7.8" fill="#0868ff"/>
<rect x="730.8" y="510.2" width="6.8" height="7.8" fill="#ffcc30"/>
<rect x="576" y="510.2" width="6.8" height="7.8" fill="#0448ff"/>
<rect x="739.4" y="510.2" width="6.8" height="7.8" fill="#ffe040"/>
<rect x="584.6" y="510.2" width="6.8" height="7.8" fill="#0024ff"/>
<rect x="748" y="510.2" width="6.8" height="7.8" fill="#fff050"/>
<rect x="593.2" y="510.2" width="6.8" height="7.8" fill="#0000f4"/>
<rect x="756.6" y="510.2" width="6.8" height="7.8" fill="#ffff5c"/>
<rect x="601.8" y="510.2" width="6.8" height="7.8" fill="#0000dc"/>
<rect x="765.2" y="510.2" width="6.8" height="7.8" fill="#ffff70"/>
<rect x="610.4" y="510.2" width="6.8" height="7.8" fill="#0000c0"/>
<rect x="773.8" y="510.2" width="6.8" height="7.8" fill="#ffff88"/>
<rect x="619" y="510.2" width="6.8" height="7.8" fill="#0000a4"/>
<rect x="782.4" y="510.2" width="6.8" height="7.8" fill="#ffffa0"/>
<rect x="627.6" y="510.2" width="6.8" height="7.8" fill="#00008c"/>
<rect x="791" y="510.2" width="6.8" height="7.8" fill="#ffffb8"/>
<rect x="636.2" y="510.2" width="6.8" height="7.8" fill="#000074"/>
<rect x="799.6" y="510.2" width="6.8" height="7.8" fill="#ffffd0"/>
<path d="M480.2,509.1 L471.9,513.9 L480.2,518.7 Z" fill="#e0ffff" stroke="#000" stroke-width="1.5"/>
<path d="M807.6,509.1 L815.9,513.9 L807.6,518.7 Z" fill="#ffffe0" stroke="#000" stroke-width="1.5"/>
<path d="M506.3,518.9 V533 M575.1,518.9 V533 M643.9,518.9 V533 M712.7,518.9 V533 M781.5,518.9 V533" stroke="#000" stroke-width="2" fill="none"/>
<path d="M479.4,518.9 L481.6,518.9 L480.9,526.8 L480.1,526.8 Z M488,518.9 L490.2,518.9 L489.5,526.8 L488.8,526.8 Z M496.6,518.9 L498.8,518.9 L498.1,526.8 L497.3,526.8 Z M513.8,518.9 L516,518.9 L515.2,526.8 L514.5,526.8 Z M522.4,518.9 L524.6,518.9 L523.9,526.8 L523.1,526.8 Z M531,518.9 L533.2,518.9 L532.5,526.8 L531.8,526.8 Z M539.6,518.9 L541.8,518.9 L541.1,526.8 L540.4,526.8 Z M548.2,518.9 L550.4,518.9 L549.6,526.8 L548.9,526.8 Z M556.8,518.9 L559,518.9 L558.2,526.8 L557.5,526.8 Z M565.4,518.9 L567.6,518.9 L566.9,526.8 L566.1,526.8 Z M582.6,518.9 L584.8,518.9 L584,526.8 L583.3,526.8 Z M591.2,518.9 L593.4,518.9 L592.6,526.8 L591.9,526.8 Z M599.8,518.9 L602,518.9 L601.2,526.8 L600.5,526.8 Z M608.4,518.9 L610.6,518.9 L609.9,526.8 L609.1,526.8 Z M617,518.9 L619.2,518.9 L618.5,526.8 L617.8,526.8 Z M625.6,518.9 L627.8,518.9 L627,526.8 L626.3,526.8 Z M634.2,518.9 L636.4,518.9 L635.6,526.8 L634.9,526.8 Z M651.4,518.9 L653.6,518.9 L652.9,526.8 L652.1,526.8 Z M660,518.9 L662.2,518.9 L661.5,526.8 L660.8,526.8 Z M668.6,518.9 L670.8,518.9 L670,526.8 L669.3,526.8 Z M677.2,518.9 L679.4,518.9 L678.6,526.8 L677.9,526.8 Z M685.8,518.9 L688,518.9 L687.2,526.8 L686.5,526.8 Z M694.4,518.9 L696.6,518.9 L695.9,526.8 L695.1,526.8 Z M703,518.9 L705.2,518.9 L704.5,526.8 L703.8,526.8 Z M720.2,518.9 L722.4,518.9 L721.6,526.8 L720.9,526.8 Z M728.8,518.9 L731,518.9 L730.2,526.8 L729.5,526.8 Z M737.4,518.9 L739.6,518.9 L738.9,526.8 L738.1,526.8 Z M746,518.9 L748.2,518.9 L747.4,526.8 L746.7,526.8 Z M754.6,518.9 L756.8,518.9 L756,526.8 L755.3,526.8 Z M763.2,518.9 L765.4,518.9 L764.6,526.8 L763.9,526.8 Z M771.8,518.9 L774,518.9 L773.2,526.8 L772.5,526.8 Z M789,518.9 L791.2,518.9 L790.4,526.8 L789.7,526.8 Z M797.6,518.9 L799.8,518.9 L799,526.8 L798.3,526.8 Z M806.2,518.9 L808.4,518.9 L807.6,526.8 L806.9,526.8 Z" fill="#000"/>
<text transform="translate(506.3,570.4) scale(1.02,1)" font-size="29.4" text-anchor="middle">−8</text>
<text transform="translate(575.1,570.4) scale(1.02,1)" font-size="29.4" text-anchor="middle">−4</text>
<text transform="translate(643.9,570.4) scale(1.02,1)" font-size="29.4" text-anchor="middle">0</text>
<text transform="translate(712.7,570.4) scale(1.02,1)" font-size="29.4" text-anchor="middle">4</text>
<text transform="translate(781.5,570.4) scale(1.02,1)" font-size="29.4" text-anchor="middle">8</text>
</svg></body></html>
